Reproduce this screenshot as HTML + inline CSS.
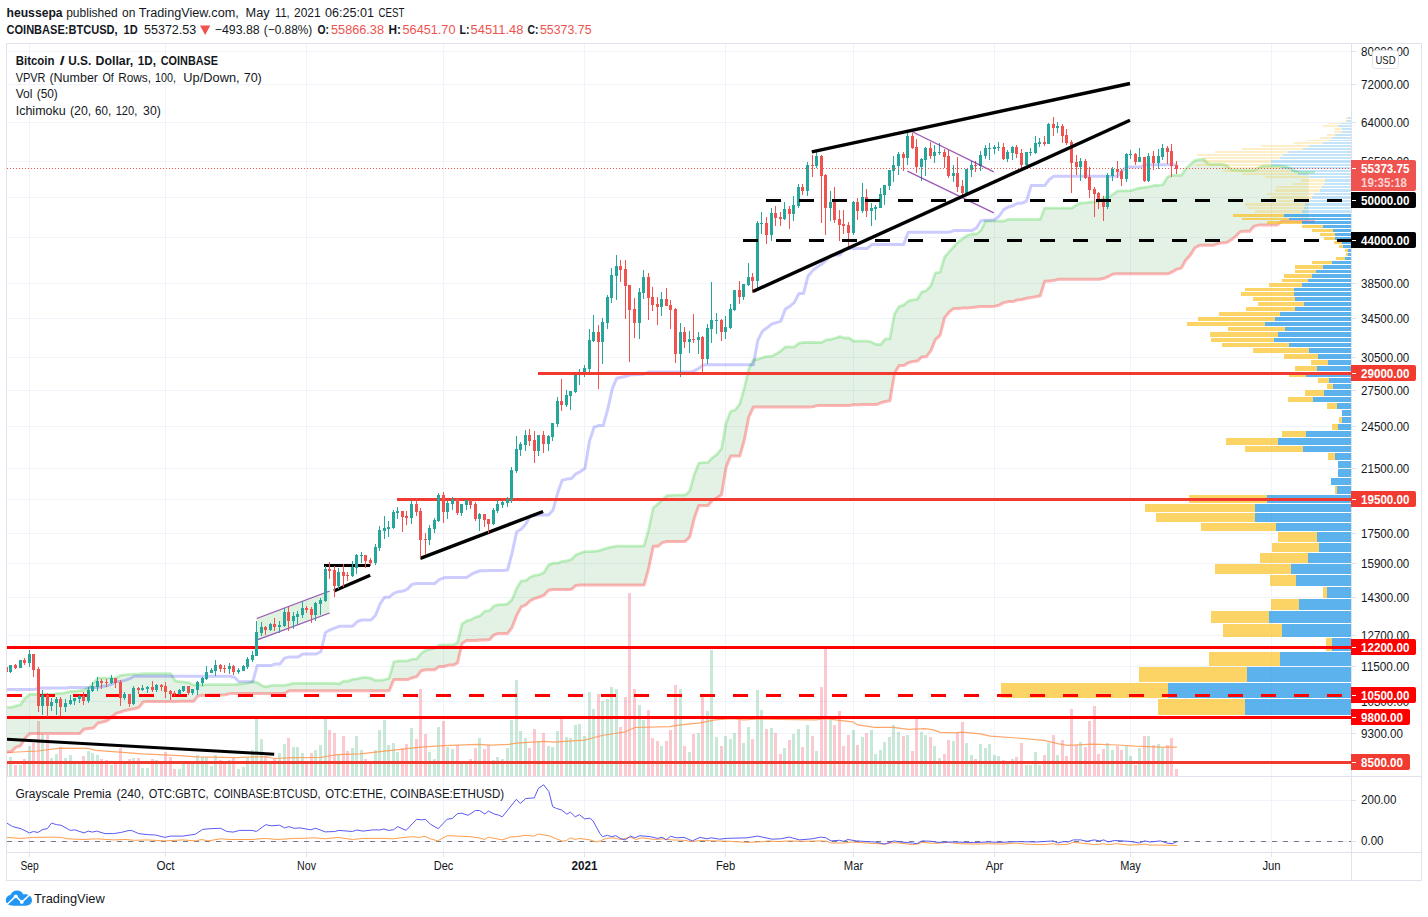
<!DOCTYPE html>
<html><head><meta charset="utf-8"><title>BTCUSD chart</title>
<style>html,body{margin:0;padding:0;background:#fff;width:1428px;height:917px;overflow:hidden;font-family:"Liberation Sans", sans-serif;}</style>
</head><body><svg width="1428" height="917" viewBox="0 0 1428 917" font-family='"Liberation Sans", sans-serif' style="display:block"><g shape-rendering="crispEdges">
<rect x="29" y="44" width="1" height="808" fill="#F0F3FA" />
<rect x="165" y="44" width="1" height="808" fill="#F0F3FA" />
<rect x="306" y="44" width="1" height="808" fill="#F0F3FA" />
<rect x="443" y="44" width="1" height="808" fill="#F0F3FA" />
<rect x="584" y="44" width="1" height="808" fill="#F0F3FA" />
<rect x="725" y="44" width="1" height="808" fill="#F0F3FA" />
<rect x="853" y="44" width="1" height="808" fill="#F0F3FA" />
<rect x="994" y="44" width="1" height="808" fill="#F0F3FA" />
<rect x="1130" y="44" width="1" height="808" fill="#F0F3FA" />
<rect x="1271" y="44" width="1" height="808" fill="#F0F3FA" />
<rect x="7" y="51" width="1344" height="1" fill="#F0F3FA" />
<rect x="7" y="84" width="1344" height="1" fill="#F0F3FA" />
<rect x="7" y="122" width="1344" height="1" fill="#F0F3FA" />
<rect x="7" y="161" width="1344" height="1" fill="#F0F3FA" />
<rect x="7" y="197" width="1344" height="1" fill="#F0F3FA" />
<rect x="7" y="237" width="1344" height="1" fill="#F0F3FA" />
<rect x="7" y="283" width="1344" height="1" fill="#F0F3FA" />
<rect x="7" y="318" width="1344" height="1" fill="#F0F3FA" />
<rect x="7" y="357" width="1344" height="1" fill="#F0F3FA" />
<rect x="7" y="390" width="1344" height="1" fill="#F0F3FA" />
<rect x="7" y="426" width="1344" height="1" fill="#F0F3FA" />
<rect x="7" y="468" width="1344" height="1" fill="#F0F3FA" />
<rect x="7" y="499" width="1344" height="1" fill="#F0F3FA" />
<rect x="7" y="533" width="1344" height="1" fill="#F0F3FA" />
<rect x="7" y="563" width="1344" height="1" fill="#F0F3FA" />
<rect x="7" y="597" width="1344" height="1" fill="#F0F3FA" />
<rect x="7" y="635" width="1344" height="1" fill="#F0F3FA" />
<rect x="7" y="666" width="1344" height="1" fill="#F0F3FA" />
<rect x="7" y="701" width="1344" height="1" fill="#F0F3FA" />
<rect x="7" y="733" width="1344" height="1" fill="#F0F3FA" />
<rect x="7" y="800" width="1344" height="1" fill="#F0F3FA" />
<rect x="7" y="841" width="1344" height="1" fill="#F0F3FA" />
</g>
<defs><clipPath id="cm"><rect x="7" y="44" width="1344" height="732"/></clipPath><clipPath id="cl"><rect x="7" y="777" width="1344" height="75"/></clipPath></defs>
<g clip-path="url(#cm)">
<g shape-rendering="crispEdges">
<rect x="5" y="764" width="3" height="12" fill="rgba(238,78,98,0.3)" />
<rect x="9" y="757" width="3" height="19" fill="rgba(72,178,125,0.3)" />
<rect x="14" y="765" width="3" height="11" fill="rgba(238,78,98,0.3)" />
<rect x="19" y="765" width="3" height="11" fill="rgba(72,178,125,0.3)" />
<rect x="23" y="759" width="3" height="17" fill="rgba(238,78,98,0.3)" />
<rect x="28" y="746" width="3" height="30" fill="rgba(72,178,125,0.3)" />
<rect x="32" y="743" width="3" height="33" fill="rgba(238,78,98,0.3)" />
<rect x="37" y="721" width="3" height="55" fill="rgba(238,78,98,0.3)" />
<rect x="41" y="734" width="3" height="42" fill="rgba(72,178,125,0.3)" />
<rect x="46" y="735" width="3" height="41" fill="rgba(238,78,98,0.3)" />
<rect x="50" y="758" width="3" height="18" fill="rgba(72,178,125,0.3)" />
<rect x="55" y="754" width="3" height="22" fill="rgba(72,178,125,0.3)" />
<rect x="59" y="747" width="3" height="29" fill="rgba(238,78,98,0.3)" />
<rect x="64" y="758" width="3" height="18" fill="rgba(72,178,125,0.3)" />
<rect x="69" y="755" width="3" height="21" fill="rgba(72,178,125,0.3)" />
<rect x="73" y="764" width="3" height="12" fill="rgba(72,178,125,0.3)" />
<rect x="78" y="764" width="3" height="12" fill="rgba(72,178,125,0.3)" />
<rect x="82" y="756" width="3" height="20" fill="rgba(238,78,98,0.3)" />
<rect x="87" y="751" width="3" height="25" fill="rgba(72,178,125,0.3)" />
<rect x="91" y="753" width="3" height="23" fill="rgba(72,178,125,0.3)" />
<rect x="96" y="755" width="3" height="21" fill="rgba(72,178,125,0.3)" />
<rect x="100" y="759" width="3" height="17" fill="rgba(238,78,98,0.3)" />
<rect x="105" y="760" width="3" height="16" fill="rgba(238,78,98,0.3)" />
<rect x="110" y="765" width="3" height="11" fill="rgba(72,178,125,0.3)" />
<rect x="114" y="764" width="3" height="12" fill="rgba(238,78,98,0.3)" />
<rect x="119" y="748" width="3" height="28" fill="rgba(238,78,98,0.3)" />
<rect x="123" y="764" width="3" height="12" fill="rgba(72,178,125,0.3)" />
<rect x="128" y="759" width="3" height="17" fill="rgba(238,78,98,0.3)" />
<rect x="132" y="758" width="3" height="18" fill="rgba(72,178,125,0.3)" />
<rect x="137" y="758" width="3" height="18" fill="rgba(238,78,98,0.3)" />
<rect x="141" y="768" width="3" height="8" fill="rgba(72,178,125,0.3)" />
<rect x="146" y="768" width="3" height="8" fill="rgba(72,178,125,0.3)" />
<rect x="151" y="759" width="3" height="17" fill="rgba(238,78,98,0.3)" />
<rect x="155" y="760" width="3" height="16" fill="rgba(72,178,125,0.3)" />
<rect x="160" y="764" width="3" height="12" fill="rgba(238,78,98,0.3)" />
<rect x="164" y="752" width="3" height="24" fill="rgba(238,78,98,0.3)" />
<rect x="169" y="757" width="3" height="19" fill="rgba(238,78,98,0.3)" />
<rect x="173" y="769" width="3" height="7" fill="rgba(238,78,98,0.3)" />
<rect x="178" y="769" width="3" height="7" fill="rgba(72,178,125,0.3)" />
<rect x="182" y="764" width="3" height="12" fill="rgba(72,178,125,0.3)" />
<rect x="187" y="764" width="3" height="12" fill="rgba(238,78,98,0.3)" />
<rect x="191" y="764" width="3" height="12" fill="rgba(72,178,125,0.3)" />
<rect x="196" y="755" width="3" height="21" fill="rgba(72,178,125,0.3)" />
<rect x="201" y="757" width="3" height="19" fill="rgba(72,178,125,0.3)" />
<rect x="205" y="757" width="3" height="19" fill="rgba(72,178,125,0.3)" />
<rect x="210" y="766" width="3" height="10" fill="rgba(72,178,125,0.3)" />
<rect x="214" y="755" width="3" height="21" fill="rgba(72,178,125,0.3)" />
<rect x="219" y="760" width="3" height="16" fill="rgba(238,78,98,0.3)" />
<rect x="223" y="764" width="3" height="12" fill="rgba(238,78,98,0.3)" />
<rect x="228" y="760" width="3" height="16" fill="rgba(72,178,125,0.3)" />
<rect x="232" y="758" width="3" height="18" fill="rgba(238,78,98,0.3)" />
<rect x="237" y="769" width="3" height="7" fill="rgba(72,178,125,0.3)" />
<rect x="242" y="767" width="3" height="9" fill="rgba(72,178,125,0.3)" />
<rect x="246" y="758" width="3" height="18" fill="rgba(72,178,125,0.3)" />
<rect x="251" y="750" width="3" height="26" fill="rgba(72,178,125,0.3)" />
<rect x="255" y="719" width="3" height="57" fill="rgba(72,178,125,0.3)" />
<rect x="260" y="739" width="3" height="37" fill="rgba(72,178,125,0.3)" />
<rect x="264" y="756" width="3" height="20" fill="rgba(238,78,98,0.3)" />
<rect x="269" y="764" width="3" height="12" fill="rgba(72,178,125,0.3)" />
<rect x="273" y="759" width="3" height="17" fill="rgba(238,78,98,0.3)" />
<rect x="278" y="753" width="3" height="23" fill="rgba(72,178,125,0.3)" />
<rect x="283" y="744" width="3" height="32" fill="rgba(72,178,125,0.3)" />
<rect x="287" y="738" width="3" height="38" fill="rgba(238,78,98,0.3)" />
<rect x="292" y="747" width="3" height="29" fill="rgba(72,178,125,0.3)" />
<rect x="296" y="747" width="3" height="29" fill="rgba(72,178,125,0.3)" />
<rect x="301" y="753" width="3" height="23" fill="rgba(72,178,125,0.3)" />
<rect x="305" y="764" width="3" height="12" fill="rgba(238,78,98,0.3)" />
<rect x="310" y="753" width="3" height="23" fill="rgba(238,78,98,0.3)" />
<rect x="314" y="750" width="3" height="26" fill="rgba(72,178,125,0.3)" />
<rect x="319" y="745" width="3" height="31" fill="rgba(72,178,125,0.3)" />
<rect x="324" y="719" width="3" height="57" fill="rgba(72,178,125,0.3)" />
<rect x="328" y="730" width="3" height="46" fill="rgba(238,78,98,0.3)" />
<rect x="333" y="733" width="3" height="43" fill="rgba(238,78,98,0.3)" />
<rect x="337" y="754" width="3" height="22" fill="rgba(72,178,125,0.3)" />
<rect x="342" y="736" width="3" height="40" fill="rgba(238,78,98,0.3)" />
<rect x="346" y="751" width="3" height="25" fill="rgba(238,78,98,0.3)" />
<rect x="351" y="748" width="3" height="28" fill="rgba(72,178,125,0.3)" />
<rect x="355" y="736" width="3" height="40" fill="rgba(72,178,125,0.3)" />
<rect x="360" y="750" width="3" height="26" fill="rgba(72,178,125,0.3)" />
<rect x="364" y="759" width="3" height="17" fill="rgba(238,78,98,0.3)" />
<rect x="369" y="764" width="3" height="12" fill="rgba(238,78,98,0.3)" />
<rect x="374" y="750" width="3" height="26" fill="rgba(72,178,125,0.3)" />
<rect x="378" y="730" width="3" height="46" fill="rgba(72,178,125,0.3)" />
<rect x="383" y="720" width="3" height="56" fill="rgba(72,178,125,0.3)" />
<rect x="387" y="745" width="3" height="31" fill="rgba(72,178,125,0.3)" />
<rect x="392" y="743" width="3" height="33" fill="rgba(72,178,125,0.3)" />
<rect x="396" y="752" width="3" height="24" fill="rgba(72,178,125,0.3)" />
<rect x="401" y="748" width="3" height="28" fill="rgba(238,78,98,0.3)" />
<rect x="405" y="744" width="3" height="32" fill="rgba(238,78,98,0.3)" />
<rect x="410" y="728" width="3" height="48" fill="rgba(72,178,125,0.3)" />
<rect x="415" y="739" width="3" height="37" fill="rgba(238,78,98,0.3)" />
<rect x="419" y="689" width="3" height="87" fill="rgba(238,78,98,0.3)" />
<rect x="424" y="734" width="3" height="42" fill="rgba(238,78,98,0.3)" />
<rect x="428" y="752" width="3" height="24" fill="rgba(72,178,125,0.3)" />
<rect x="433" y="759" width="3" height="17" fill="rgba(72,178,125,0.3)" />
<rect x="437" y="727" width="3" height="49" fill="rgba(72,178,125,0.3)" />
<rect x="442" y="721" width="3" height="55" fill="rgba(238,78,98,0.3)" />
<rect x="446" y="747" width="3" height="29" fill="rgba(72,178,125,0.3)" />
<rect x="451" y="749" width="3" height="27" fill="rgba(72,178,125,0.3)" />
<rect x="456" y="745" width="3" height="31" fill="rgba(238,78,98,0.3)" />
<rect x="460" y="764" width="3" height="12" fill="rgba(72,178,125,0.3)" />
<rect x="465" y="764" width="3" height="12" fill="rgba(72,178,125,0.3)" />
<rect x="469" y="759" width="3" height="17" fill="rgba(238,78,98,0.3)" />
<rect x="474" y="748" width="3" height="28" fill="rgba(238,78,98,0.3)" />
<rect x="478" y="738" width="3" height="38" fill="rgba(72,178,125,0.3)" />
<rect x="483" y="749" width="3" height="27" fill="rgba(238,78,98,0.3)" />
<rect x="487" y="745" width="3" height="31" fill="rgba(238,78,98,0.3)" />
<rect x="492" y="760" width="3" height="16" fill="rgba(72,178,125,0.3)" />
<rect x="496" y="757" width="3" height="19" fill="rgba(72,178,125,0.3)" />
<rect x="501" y="759" width="3" height="17" fill="rgba(72,178,125,0.3)" />
<rect x="506" y="748" width="3" height="28" fill="rgba(72,178,125,0.3)" />
<rect x="510" y="720" width="3" height="56" fill="rgba(72,178,125,0.3)" />
<rect x="515" y="680" width="3" height="96" fill="rgba(72,178,125,0.3)" />
<rect x="519" y="731" width="3" height="45" fill="rgba(72,178,125,0.3)" />
<rect x="524" y="738" width="3" height="38" fill="rgba(72,178,125,0.3)" />
<rect x="528" y="748" width="3" height="28" fill="rgba(238,78,98,0.3)" />
<rect x="533" y="729" width="3" height="47" fill="rgba(238,78,98,0.3)" />
<rect x="537" y="741" width="3" height="35" fill="rgba(72,178,125,0.3)" />
<rect x="542" y="733" width="3" height="43" fill="rgba(238,78,98,0.3)" />
<rect x="547" y="746" width="3" height="30" fill="rgba(72,178,125,0.3)" />
<rect x="551" y="747" width="3" height="29" fill="rgba(72,178,125,0.3)" />
<rect x="556" y="731" width="3" height="45" fill="rgba(72,178,125,0.3)" />
<rect x="560" y="716" width="3" height="60" fill="rgba(238,78,98,0.3)" />
<rect x="565" y="737" width="3" height="39" fill="rgba(72,178,125,0.3)" />
<rect x="569" y="738" width="3" height="38" fill="rgba(72,178,125,0.3)" />
<rect x="574" y="725" width="3" height="51" fill="rgba(72,178,125,0.3)" />
<rect x="578" y="724" width="3" height="52" fill="rgba(72,178,125,0.3)" />
<rect x="583" y="736" width="3" height="40" fill="rgba(72,178,125,0.3)" />
<rect x="588" y="692" width="3" height="84" fill="rgba(72,178,125,0.3)" />
<rect x="592" y="709" width="3" height="67" fill="rgba(72,178,125,0.3)" />
<rect x="597" y="694" width="3" height="82" fill="rgba(238,78,98,0.3)" />
<rect x="601" y="701" width="3" height="75" fill="rgba(72,178,125,0.3)" />
<rect x="606" y="699" width="3" height="77" fill="rgba(72,178,125,0.3)" />
<rect x="610" y="687" width="3" height="89" fill="rgba(72,178,125,0.3)" />
<rect x="615" y="689" width="3" height="87" fill="rgba(72,178,125,0.3)" />
<rect x="619" y="727" width="3" height="49" fill="rgba(238,78,98,0.3)" />
<rect x="624" y="697" width="3" height="79" fill="rgba(238,78,98,0.3)" />
<rect x="628" y="593" width="3" height="183" fill="rgba(238,78,98,0.3)" />
<rect x="633" y="689" width="3" height="87" fill="rgba(238,78,98,0.3)" />
<rect x="638" y="705" width="3" height="71" fill="rgba(72,178,125,0.3)" />
<rect x="642" y="720" width="3" height="56" fill="rgba(72,178,125,0.3)" />
<rect x="647" y="710" width="3" height="66" fill="rgba(238,78,98,0.3)" />
<rect x="651" y="738" width="3" height="38" fill="rgba(238,78,98,0.3)" />
<rect x="656" y="741" width="3" height="35" fill="rgba(238,78,98,0.3)" />
<rect x="660" y="746" width="3" height="30" fill="rgba(72,178,125,0.3)" />
<rect x="665" y="741" width="3" height="35" fill="rgba(238,78,98,0.3)" />
<rect x="669" y="730" width="3" height="46" fill="rgba(238,78,98,0.3)" />
<rect x="674" y="685" width="3" height="91" fill="rgba(238,78,98,0.3)" />
<rect x="679" y="689" width="3" height="87" fill="rgba(72,178,125,0.3)" />
<rect x="683" y="746" width="3" height="30" fill="rgba(238,78,98,0.3)" />
<rect x="688" y="752" width="3" height="24" fill="rgba(72,178,125,0.3)" />
<rect x="692" y="734" width="3" height="42" fill="rgba(238,78,98,0.3)" />
<rect x="697" y="733" width="3" height="43" fill="rgba(72,178,125,0.3)" />
<rect x="701" y="697" width="3" height="79" fill="rgba(238,78,98,0.3)" />
<rect x="706" y="711" width="3" height="65" fill="rgba(72,178,125,0.3)" />
<rect x="710" y="650" width="3" height="126" fill="rgba(72,178,125,0.3)" />
<rect x="715" y="737" width="3" height="39" fill="rgba(72,178,125,0.3)" />
<rect x="720" y="746" width="3" height="30" fill="rgba(238,78,98,0.3)" />
<rect x="724" y="736" width="3" height="40" fill="rgba(72,178,125,0.3)" />
<rect x="729" y="739" width="3" height="37" fill="rgba(72,178,125,0.3)" />
<rect x="733" y="733" width="3" height="43" fill="rgba(72,178,125,0.3)" />
<rect x="738" y="720" width="3" height="56" fill="rgba(238,78,98,0.3)" />
<rect x="742" y="743" width="3" height="33" fill="rgba(72,178,125,0.3)" />
<rect x="747" y="727" width="3" height="49" fill="rgba(72,178,125,0.3)" />
<rect x="751" y="739" width="3" height="37" fill="rgba(238,78,98,0.3)" />
<rect x="756" y="690" width="3" height="86" fill="rgba(72,178,125,0.3)" />
<rect x="760" y="710" width="3" height="66" fill="rgba(72,178,125,0.3)" />
<rect x="765" y="729" width="3" height="47" fill="rgba(238,78,98,0.3)" />
<rect x="770" y="728" width="3" height="48" fill="rgba(72,178,125,0.3)" />
<rect x="774" y="733" width="3" height="43" fill="rgba(238,78,98,0.3)" />
<rect x="779" y="754" width="3" height="22" fill="rgba(238,78,98,0.3)" />
<rect x="783" y="748" width="3" height="28" fill="rgba(72,178,125,0.3)" />
<rect x="788" y="740" width="3" height="36" fill="rgba(238,78,98,0.3)" />
<rect x="792" y="734" width="3" height="42" fill="rgba(72,178,125,0.3)" />
<rect x="797" y="729" width="3" height="47" fill="rgba(72,178,125,0.3)" />
<rect x="801" y="747" width="3" height="29" fill="rgba(238,78,98,0.3)" />
<rect x="806" y="725" width="3" height="51" fill="rgba(72,178,125,0.3)" />
<rect x="811" y="736" width="3" height="40" fill="rgba(238,78,98,0.3)" />
<rect x="815" y="751" width="3" height="25" fill="rgba(72,178,125,0.3)" />
<rect x="820" y="687" width="3" height="89" fill="rgba(238,78,98,0.3)" />
<rect x="824" y="649" width="3" height="127" fill="rgba(238,78,98,0.3)" />
<rect x="829" y="720" width="3" height="56" fill="rgba(72,178,125,0.3)" />
<rect x="833" y="725" width="3" height="51" fill="rgba(238,78,98,0.3)" />
<rect x="838" y="711" width="3" height="65" fill="rgba(238,78,98,0.3)" />
<rect x="842" y="746" width="3" height="30" fill="rgba(238,78,98,0.3)" />
<rect x="847" y="735" width="3" height="41" fill="rgba(238,78,98,0.3)" />
<rect x="852" y="730" width="3" height="46" fill="rgba(72,178,125,0.3)" />
<rect x="856" y="745" width="3" height="31" fill="rgba(238,78,98,0.3)" />
<rect x="861" y="737" width="3" height="39" fill="rgba(72,178,125,0.3)" />
<rect x="865" y="733" width="3" height="43" fill="rgba(238,78,98,0.3)" />
<rect x="870" y="730" width="3" height="46" fill="rgba(72,178,125,0.3)" />
<rect x="874" y="754" width="3" height="22" fill="rgba(72,178,125,0.3)" />
<rect x="879" y="750" width="3" height="26" fill="rgba(72,178,125,0.3)" />
<rect x="883" y="742" width="3" height="34" fill="rgba(72,178,125,0.3)" />
<rect x="888" y="737" width="3" height="39" fill="rgba(72,178,125,0.3)" />
<rect x="892" y="725" width="3" height="51" fill="rgba(72,178,125,0.3)" />
<rect x="897" y="732" width="3" height="44" fill="rgba(72,178,125,0.3)" />
<rect x="902" y="736" width="3" height="40" fill="rgba(238,78,98,0.3)" />
<rect x="906" y="735" width="3" height="41" fill="rgba(72,178,125,0.3)" />
<rect x="911" y="751" width="3" height="25" fill="rgba(238,78,98,0.3)" />
<rect x="915" y="719" width="3" height="57" fill="rgba(238,78,98,0.3)" />
<rect x="920" y="732" width="3" height="44" fill="rgba(72,178,125,0.3)" />
<rect x="924" y="735" width="3" height="41" fill="rgba(72,178,125,0.3)" />
<rect x="929" y="737" width="3" height="39" fill="rgba(238,78,98,0.3)" />
<rect x="933" y="746" width="3" height="30" fill="rgba(72,178,125,0.3)" />
<rect x="938" y="758" width="3" height="18" fill="rgba(72,178,125,0.3)" />
<rect x="943" y="754" width="3" height="22" fill="rgba(238,78,98,0.3)" />
<rect x="947" y="740" width="3" height="36" fill="rgba(238,78,98,0.3)" />
<rect x="952" y="741" width="3" height="35" fill="rgba(72,178,125,0.3)" />
<rect x="956" y="733" width="3" height="43" fill="rgba(238,78,98,0.3)" />
<rect x="961" y="722" width="3" height="54" fill="rgba(238,78,98,0.3)" />
<rect x="965" y="743" width="3" height="33" fill="rgba(72,178,125,0.3)" />
<rect x="970" y="755" width="3" height="21" fill="rgba(72,178,125,0.3)" />
<rect x="974" y="759" width="3" height="17" fill="rgba(238,78,98,0.3)" />
<rect x="979" y="744" width="3" height="32" fill="rgba(72,178,125,0.3)" />
<rect x="984" y="748" width="3" height="28" fill="rgba(72,178,125,0.3)" />
<rect x="988" y="744" width="3" height="32" fill="rgba(72,178,125,0.3)" />
<rect x="993" y="755" width="3" height="21" fill="rgba(72,178,125,0.3)" />
<rect x="997" y="756" width="3" height="20" fill="rgba(72,178,125,0.3)" />
<rect x="1002" y="760" width="3" height="16" fill="rgba(238,78,98,0.3)" />
<rect x="1006" y="764" width="3" height="12" fill="rgba(72,178,125,0.3)" />
<rect x="1011" y="759" width="3" height="17" fill="rgba(72,178,125,0.3)" />
<rect x="1015" y="757" width="3" height="19" fill="rgba(238,78,98,0.3)" />
<rect x="1020" y="743" width="3" height="33" fill="rgba(238,78,98,0.3)" />
<rect x="1025" y="765" width="3" height="11" fill="rgba(72,178,125,0.3)" />
<rect x="1029" y="765" width="3" height="11" fill="rgba(72,178,125,0.3)" />
<rect x="1034" y="752" width="3" height="24" fill="rgba(72,178,125,0.3)" />
<rect x="1038" y="765" width="3" height="11" fill="rgba(72,178,125,0.3)" />
<rect x="1043" y="755" width="3" height="21" fill="rgba(238,78,98,0.3)" />
<rect x="1047" y="743" width="3" height="33" fill="rgba(72,178,125,0.3)" />
<rect x="1052" y="735" width="3" height="41" fill="rgba(238,78,98,0.3)" />
<rect x="1056" y="755" width="3" height="21" fill="rgba(72,178,125,0.3)" />
<rect x="1061" y="740" width="3" height="36" fill="rgba(238,78,98,0.3)" />
<rect x="1065" y="756" width="3" height="20" fill="rgba(238,78,98,0.3)" />
<rect x="1070" y="709" width="3" height="67" fill="rgba(238,78,98,0.3)" />
<rect x="1075" y="745" width="3" height="31" fill="rgba(238,78,98,0.3)" />
<rect x="1079" y="742" width="3" height="34" fill="rgba(72,178,125,0.3)" />
<rect x="1084" y="747" width="3" height="29" fill="rgba(238,78,98,0.3)" />
<rect x="1088" y="721" width="3" height="55" fill="rgba(238,78,98,0.3)" />
<rect x="1093" y="706" width="3" height="70" fill="rgba(238,78,98,0.3)" />
<rect x="1097" y="754" width="3" height="22" fill="rgba(238,78,98,0.3)" />
<rect x="1102" y="749" width="3" height="27" fill="rgba(238,78,98,0.3)" />
<rect x="1106" y="743" width="3" height="33" fill="rgba(72,178,125,0.3)" />
<rect x="1111" y="750" width="3" height="26" fill="rgba(72,178,125,0.3)" />
<rect x="1116" y="746" width="3" height="30" fill="rgba(238,78,98,0.3)" />
<rect x="1120" y="750" width="3" height="26" fill="rgba(238,78,98,0.3)" />
<rect x="1125" y="746" width="3" height="30" fill="rgba(72,178,125,0.3)" />
<rect x="1129" y="756" width="3" height="20" fill="rgba(72,178,125,0.3)" />
<rect x="1134" y="765" width="3" height="11" fill="rgba(238,78,98,0.3)" />
<rect x="1138" y="748" width="3" height="28" fill="rgba(72,178,125,0.3)" />
<rect x="1143" y="736" width="3" height="40" fill="rgba(238,78,98,0.3)" />
<rect x="1147" y="736" width="3" height="40" fill="rgba(72,178,125,0.3)" />
<rect x="1152" y="745" width="3" height="31" fill="rgba(238,78,98,0.3)" />
<rect x="1157" y="744" width="3" height="32" fill="rgba(72,178,125,0.3)" />
<rect x="1161" y="748" width="3" height="28" fill="rgba(72,178,125,0.3)" />
<rect x="1166" y="745" width="3" height="31" fill="rgba(238,78,98,0.3)" />
<rect x="1170" y="738" width="3" height="38" fill="rgba(238,78,98,0.3)" />
<rect x="1175" y="769" width="3" height="7" fill="rgba(238,78,98,0.3)" />
</g>
<polyline fill="none" stroke="#FF9850" stroke-opacity="0.85" stroke-width="1.2" points="6.9,752.5 37.8,751 60.5,748.2 88.2,748.4 95.8,750.3 119.7,752.2 142.4,753.9 180,755.6 196.4,756.9 236.7,757.6 255.6,756.9 265.7,756.9 274.5,758.5 293.4,757.6 321.2,757.3 328.7,756 337.6,754.7 360,753.8 420.5,747.1 443.2,745.6 478.5,744.4 491,745.1 508.7,744.4 516.3,743.1 544,741.3 554.1,742.1 584.3,740.1 602,735.5 624.7,732 634.8,727.5 670,726.7 680.1,724.9 700.3,722.9 715,719.8 731.8,718.7 743.6,719.8 760,719 815.8,719.8 825.9,718.7 839.4,720.3 852.8,721.8 857.9,724.9 874.7,727.4 893.2,727.4 908.3,729.4 925.1,728.7 933.5,729.9 940.2,732.4 955,732.9 961.8,732.1 980.3,733.8 990.3,736.1 1017.2,738 1044.1,740.3 1057.6,743.7 1067.6,745.4 1092.9,744.2 1118.1,745 1134.9,746.2 1160.1,747.1 1176.9,747.1"/>
<polygon fill="rgba(67,160,71,0.14)" points="2.3,707.4 6.9,707.4 11.4,707.4 16.0,705.8 20.5,704.9 25.1,698.1 29.6,694.3 34.2,694.3 38.7,694.3 43.3,694.3 47.8,694.3 52.4,694.3 56.9,693.6 61.5,693.5 66.0,692.6 70.6,691.3 75.1,691.1 79.7,690.7 84.2,689.8 88.8,687.9 93.3,683.2 97.9,678.1 102.5,678.1 107.0,678.1 111.6,678.1 116.1,678.1 120.7,675.3 125.2,674.9 129.8,674.4 134.3,674.2 138.9,674.2 143.4,673.7 148.0,673.7 152.5,673.7 157.1,673.7 161.6,673.7 166.2,673.7 170.7,673.7 175.3,680.9 179.8,681.7 184.4,682.1 188.9,682.7 193.5,685.0 198.0,685.0 202.6,685.0 207.1,684.7 211.7,684.7 216.3,684.7 220.8,684.7 225.4,684.7 229.9,684.7 234.5,684.7 239.0,684.0 243.6,683.9 248.1,683.0 252.7,681.7 257.2,682.5 261.8,685.6 266.3,686.8 270.9,685.6 275.4,685.4 280.0,685.4 284.5,685.4 289.1,684.4 293.6,683.3 298.2,683.3 302.7,683.3 307.3,683.3 311.8,683.3 316.4,683.3 320.9,683.3 325.5,683.3 330.1,683.3 334.6,683.3 339.2,683.8 343.7,681.1 348.3,681.1 352.8,679.3 357.4,678.9 361.9,677.6 366.5,677.6 371.0,678.2 375.6,680.4 380.1,680.4 384.7,679.7 389.2,678.1 393.8,661.9 398.3,661.0 402.9,660.9 407.4,660.9 412.0,659.2 416.5,659.1 421.1,653.4 425.6,650.5 430.2,649.1 434.7,648.2 439.3,645.1 443.9,645.0 448.4,645.0 453.0,645.0 457.5,642.8 462.1,623.9 466.6,620.8 471.2,619.6 475.7,617.1 480.3,615.8 484.8,611.1 489.4,610.7 493.9,606.0 498.5,604.6 503.0,604.6 507.6,604.0 512.1,599.5 516.7,588.2 521.2,581.0 525.8,580.6 530.3,577.0 534.9,575.4 539.4,574.7 544.0,572.5 548.5,565.1 553.1,563.1 557.7,563.1 562.2,561.3 566.8,560.8 571.3,559.4 575.9,554.9 580.4,553.1 585.0,551.7 589.5,551.7 594.1,551.3 598.6,550.9 603.2,549.3 607.7,547.9 612.3,546.8 616.8,546.2 621.4,546.2 625.9,546.1 630.5,546.1 635.0,546.1 639.6,546.1 644.1,545.8 648.7,529.3 653.2,507.9 657.8,504.2 662.3,499.8 666.9,495.6 671.5,495.4 676.0,495.2 680.6,495.2 685.1,495.2 689.7,490.9 694.2,474.7 698.8,463.2 703.3,462.6 707.9,462.4 712.4,457.8 717.0,454.1 721.5,448.8 726.1,423.0 730.6,411.5 735.2,410.0 739.7,404.2 744.3,388.2 748.8,369.0 753.4,359.8 757.9,359.3 762.5,357.7 767.0,356.4 771.6,356.2 776.1,354.0 780.7,351.1 785.3,347.0 789.8,346.9 794.4,346.9 798.9,343.2 803.5,342.5 808.0,342.5 812.6,342.5 817.1,342.5 821.7,342.5 826.2,339.9 830.8,339.3 835.3,338.2 839.9,336.6 844.4,338.0 849.0,338.0 853.5,341.2 858.1,341.2 862.6,341.2 867.2,341.2 871.7,342.2 876.3,344.5 880.8,344.5 885.4,338.9 889.9,338.9 894.5,313.9 899.1,306.6 903.6,305.1 908.2,301.2 912.7,299.9 917.3,299.3 921.8,292.1 926.4,290.7 930.9,285.5 935.5,272.8 940.0,272.4 944.6,257.0 949.1,251.9 953.7,246.7 958.2,241.9 962.8,238.5 967.3,235.5 971.9,234.0 976.4,234.0 981.0,230.3 985.5,221.2 990.1,221.2 994.6,221.2 999.2,221.2 1003.7,221.2 1008.3,219.4 1012.9,219.4 1017.4,219.4 1022.0,219.4 1026.5,219.4 1031.1,219.4 1035.6,219.4 1040.2,219.4 1044.7,208.1 1049.3,208.1 1053.8,208.1 1058.4,208.1 1062.9,208.1 1067.5,208.1 1072.0,208.1 1076.6,204.9 1081.1,202.9 1085.7,202.9 1090.2,202.1 1094.8,202.1 1099.3,200.8 1103.9,197.9 1108.4,197.2 1113.0,194.4 1117.5,191.1 1122.1,190.8 1126.7,190.8 1131.2,190.6 1135.8,189.0 1140.3,187.8 1144.9,187.3 1149.4,186.7 1154.0,185.5 1158.5,185.5 1163.1,184.5 1167.6,177.1 1172.2,175.4 1176.7,175.4 1181.3,175.4 1185.8,168.7 1190.4,164.4 1194.9,160.6 1199.5,159.6 1204.0,159.3 1208.6,164.3 1213.1,164.3 1217.7,164.3 1222.2,164.3 1226.8,165.5 1231.3,169.8 1235.9,169.8 1240.5,170.5 1245.0,170.5 1249.6,170.5 1254.1,170.5 1258.7,167.7 1263.2,165.9 1267.8,165.9 1272.3,165.9 1276.9,165.9 1281.4,166.2 1286.0,166.6 1290.5,168.2 1295.1,171.2 1299.6,172.4 1304.2,172.4 1308.7,172.4 1308.7,221.6 1304.2,221.6 1299.6,221.6 1295.1,221.6 1290.5,221.6 1286.0,221.6 1281.4,221.6 1276.9,225.1 1272.3,225.1 1267.8,225.1 1263.2,225.1 1258.7,225.1 1254.1,226.1 1249.6,231.3 1245.0,231.3 1240.5,231.5 1235.9,235.9 1231.3,239.8 1226.8,242.4 1222.2,242.8 1217.7,243.6 1213.1,245.3 1208.6,245.3 1204.0,245.3 1199.5,245.3 1194.9,247.8 1190.4,254.9 1185.8,260.1 1181.3,268.1 1176.7,269.2 1172.2,272.0 1167.6,273.8 1163.1,273.8 1158.5,273.8 1154.0,273.8 1149.4,273.8 1144.9,273.8 1140.3,273.8 1135.8,273.8 1131.2,273.8 1126.7,273.8 1122.1,273.8 1117.5,273.8 1113.0,274.0 1108.4,276.5 1103.9,278.3 1099.3,279.3 1094.8,279.3 1090.2,279.3 1085.7,279.3 1081.1,279.3 1076.6,279.3 1072.0,279.3 1067.5,279.3 1062.9,279.3 1058.4,279.3 1053.8,280.6 1049.3,280.9 1044.7,281.3 1040.2,295.7 1035.6,296.8 1031.1,297.5 1026.5,298.3 1022.0,299.5 1017.4,299.9 1012.9,301.6 1008.3,301.6 1003.7,302.6 999.2,305.1 994.6,306.2 990.1,306.6 985.5,306.6 981.0,306.6 976.4,306.9 971.9,307.5 967.3,307.9 962.8,307.9 958.2,308.4 953.7,308.4 949.1,312.0 944.6,317.6 940.0,335.4 935.5,339.3 930.9,350.6 926.4,356.6 921.8,356.9 917.3,361.1 912.7,361.4 908.2,362.9 903.6,365.6 899.1,365.6 894.5,373.3 889.9,400.7 885.4,401.5 880.8,402.8 876.3,404.6 871.7,404.6 867.2,404.6 862.6,404.6 858.1,404.7 853.5,404.8 849.0,405.6 844.4,405.6 839.9,405.6 835.3,405.6 830.8,405.6 826.2,405.6 821.7,405.6 817.1,405.6 812.6,406.7 808.0,407.0 803.5,407.0 798.9,407.0 794.4,407.0 789.8,407.0 785.3,407.0 780.7,407.0 776.1,407.0 771.6,407.0 767.0,407.0 762.5,407.0 757.9,407.0 753.4,407.0 748.8,416.8 744.3,440.0 739.7,456.0 735.2,456.0 730.6,456.0 726.1,467.1 721.5,494.8 717.0,497.8 712.4,500.3 707.9,505.4 703.3,505.4 698.8,505.4 694.2,518.3 689.7,536.9 685.1,541.4 680.6,541.4 676.0,541.4 671.5,541.4 666.9,541.4 662.3,542.6 657.8,546.3 653.2,546.3 648.7,567.9 644.1,585.0 639.6,585.0 635.0,585.0 630.5,585.0 625.9,585.0 621.4,585.0 616.8,585.0 612.3,585.0 607.7,585.0 603.2,585.0 598.6,585.0 594.1,585.0 589.5,585.0 585.0,585.0 580.4,585.0 575.9,585.4 571.3,589.4 566.8,589.4 562.2,589.4 557.7,589.4 553.1,589.4 548.5,590.3 544.0,595.1 539.4,597.0 534.9,598.4 530.3,600.7 525.8,604.9 521.2,606.9 516.7,615.3 512.1,627.3 507.6,633.4 503.0,633.4 498.5,633.4 493.9,634.9 489.4,639.6 484.8,639.9 480.3,639.9 475.7,640.4 471.2,640.4 466.6,640.4 462.1,643.2 457.5,662.9 453.0,665.1 448.4,665.1 443.9,666.5 439.3,666.5 434.7,669.8 430.2,669.8 425.6,669.8 421.1,670.8 416.5,676.8 412.0,677.8 407.4,679.6 402.9,679.6 398.3,679.6 393.8,679.6 389.2,690.7 384.7,690.7 380.1,690.7 375.6,690.7 371.0,690.7 366.5,690.7 361.9,690.7 357.4,690.7 352.8,690.7 348.3,690.7 343.7,690.7 339.2,690.7 334.6,690.7 330.1,690.7 325.5,690.7 320.9,690.7 316.4,690.7 311.8,690.7 307.3,690.7 302.7,690.7 298.2,690.7 293.6,690.7 289.1,690.7 284.5,693.6 280.0,693.6 275.4,693.6 270.9,693.6 266.3,693.6 261.8,693.6 257.2,693.6 252.7,693.6 248.1,693.6 243.6,693.6 239.0,693.6 234.5,693.6 229.9,693.6 225.4,694.8 220.8,694.9 216.3,695.0 211.7,695.1 207.1,695.2 202.6,695.3 198.0,696.0 193.5,701.2 188.9,701.2 184.4,701.3 179.8,701.3 175.3,701.4 170.7,701.4 166.2,701.5 161.6,701.5 157.1,701.6 152.5,701.6 148.0,701.6 143.4,701.7 138.9,707.4 134.3,708.7 129.8,709.5 125.2,710.4 120.7,712.0 116.1,713.4 111.6,717.0 107.0,720.8 102.5,722.0 97.9,723.0 93.3,728.1 88.8,728.5 84.2,728.9 79.7,733.4 75.1,733.6 70.6,733.6 66.0,733.6 61.5,733.6 56.9,733.6 52.4,733.6 47.8,733.6 43.3,733.6 38.7,733.6 34.2,733.6 29.6,733.6 25.1,738.2 20.5,745.7 16.0,747.1 11.4,751.6 6.9,752.1 2.3,752.5"/>
<polyline fill="none" stroke="rgb(0,200,0)" stroke-opacity="0.23" stroke-width="2.8" stroke-linejoin="round" points="2.3,707.4 6.9,707.4 11.4,707.4 16.0,705.8 20.5,704.9 25.1,698.1 29.6,694.3 34.2,694.3 38.7,694.3 43.3,694.3 47.8,694.3 52.4,694.3 56.9,693.6 61.5,693.5 66.0,692.6 70.6,691.3 75.1,691.1 79.7,690.7 84.2,689.8 88.8,687.9 93.3,683.2 97.9,678.1 102.5,678.1 107.0,678.1 111.6,678.1 116.1,678.1 120.7,675.3 125.2,674.9 129.8,674.4 134.3,674.2 138.9,674.2 143.4,673.7 148.0,673.7 152.5,673.7 157.1,673.7 161.6,673.7 166.2,673.7 170.7,673.7 175.3,680.9 179.8,681.7 184.4,682.1 188.9,682.7 193.5,685.0 198.0,685.0 202.6,685.0 207.1,684.7 211.7,684.7 216.3,684.7 220.8,684.7 225.4,684.7 229.9,684.7 234.5,684.7 239.0,684.0 243.6,683.9 248.1,683.0 252.7,681.7 257.2,682.5 261.8,685.6 266.3,686.8 270.9,685.6 275.4,685.4 280.0,685.4 284.5,685.4 289.1,684.4 293.6,683.3 298.2,683.3 302.7,683.3 307.3,683.3 311.8,683.3 316.4,683.3 320.9,683.3 325.5,683.3 330.1,683.3 334.6,683.3 339.2,683.8 343.7,681.1 348.3,681.1 352.8,679.3 357.4,678.9 361.9,677.6 366.5,677.6 371.0,678.2 375.6,680.4 380.1,680.4 384.7,679.7 389.2,678.1 393.8,661.9 398.3,661.0 402.9,660.9 407.4,660.9 412.0,659.2 416.5,659.1 421.1,653.4 425.6,650.5 430.2,649.1 434.7,648.2 439.3,645.1 443.9,645.0 448.4,645.0 453.0,645.0 457.5,642.8 462.1,623.9 466.6,620.8 471.2,619.6 475.7,617.1 480.3,615.8 484.8,611.1 489.4,610.7 493.9,606.0 498.5,604.6 503.0,604.6 507.6,604.0 512.1,599.5 516.7,588.2 521.2,581.0 525.8,580.6 530.3,577.0 534.9,575.4 539.4,574.7 544.0,572.5 548.5,565.1 553.1,563.1 557.7,563.1 562.2,561.3 566.8,560.8 571.3,559.4 575.9,554.9 580.4,553.1 585.0,551.7 589.5,551.7 594.1,551.3 598.6,550.9 603.2,549.3 607.7,547.9 612.3,546.8 616.8,546.2 621.4,546.2 625.9,546.1 630.5,546.1 635.0,546.1 639.6,546.1 644.1,545.8 648.7,529.3 653.2,507.9 657.8,504.2 662.3,499.8 666.9,495.6 671.5,495.4 676.0,495.2 680.6,495.2 685.1,495.2 689.7,490.9 694.2,474.7 698.8,463.2 703.3,462.6 707.9,462.4 712.4,457.8 717.0,454.1 721.5,448.8 726.1,423.0 730.6,411.5 735.2,410.0 739.7,404.2 744.3,388.2 748.8,369.0 753.4,359.8 757.9,359.3 762.5,357.7 767.0,356.4 771.6,356.2 776.1,354.0 780.7,351.1 785.3,347.0 789.8,346.9 794.4,346.9 798.9,343.2 803.5,342.5 808.0,342.5 812.6,342.5 817.1,342.5 821.7,342.5 826.2,339.9 830.8,339.3 835.3,338.2 839.9,336.6 844.4,338.0 849.0,338.0 853.5,341.2 858.1,341.2 862.6,341.2 867.2,341.2 871.7,342.2 876.3,344.5 880.8,344.5 885.4,338.9 889.9,338.9 894.5,313.9 899.1,306.6 903.6,305.1 908.2,301.2 912.7,299.9 917.3,299.3 921.8,292.1 926.4,290.7 930.9,285.5 935.5,272.8 940.0,272.4 944.6,257.0 949.1,251.9 953.7,246.7 958.2,241.9 962.8,238.5 967.3,235.5 971.9,234.0 976.4,234.0 981.0,230.3 985.5,221.2 990.1,221.2 994.6,221.2 999.2,221.2 1003.7,221.2 1008.3,219.4 1012.9,219.4 1017.4,219.4 1022.0,219.4 1026.5,219.4 1031.1,219.4 1035.6,219.4 1040.2,219.4 1044.7,208.1 1049.3,208.1 1053.8,208.1 1058.4,208.1 1062.9,208.1 1067.5,208.1 1072.0,208.1 1076.6,204.9 1081.1,202.9 1085.7,202.9 1090.2,202.1 1094.8,202.1 1099.3,200.8 1103.9,197.9 1108.4,197.2 1113.0,194.4 1117.5,191.1 1122.1,190.8 1126.7,190.8 1131.2,190.6 1135.8,189.0 1140.3,187.8 1144.9,187.3 1149.4,186.7 1154.0,185.5 1158.5,185.5 1163.1,184.5 1167.6,177.1 1172.2,175.4 1176.7,175.4 1181.3,175.4 1185.8,168.7 1190.4,164.4 1194.9,160.6 1199.5,159.6 1204.0,159.3 1208.6,164.3 1213.1,164.3 1217.7,164.3 1222.2,164.3 1226.8,165.5 1231.3,169.8 1235.9,169.8 1240.5,170.5 1245.0,170.5 1249.6,170.5 1254.1,170.5 1258.7,167.7 1263.2,165.9 1267.8,165.9 1272.3,165.9 1276.9,165.9 1281.4,166.2 1286.0,166.6 1290.5,168.2 1295.1,171.2 1299.6,172.4 1304.2,172.4 1308.7,172.4 1313.3,172.4 1314.8,172.4"/>
<polyline fill="none" stroke="rgb(255,82,82)" stroke-opacity="0.42" stroke-width="3" stroke-linejoin="round" points="2.3,752.5 6.9,752.1 11.4,751.6 16.0,747.1 20.5,745.7 25.1,738.2 29.6,733.6 34.2,733.6 38.7,733.6 43.3,733.6 47.8,733.6 52.4,733.6 56.9,733.6 61.5,733.6 66.0,733.6 70.6,733.6 75.1,733.6 79.7,733.4 84.2,728.9 88.8,728.5 93.3,728.1 97.9,723.0 102.5,722.0 107.0,720.8 111.6,717.0 116.1,713.4 120.7,712.0 125.2,710.4 129.8,709.5 134.3,708.7 138.9,707.4 143.4,701.7 148.0,701.6 152.5,701.6 157.1,701.6 161.6,701.5 166.2,701.5 170.7,701.4 175.3,701.4 179.8,701.3 184.4,701.3 188.9,701.2 193.5,701.2 198.0,696.0 202.6,695.3 207.1,695.2 211.7,695.1 216.3,695.0 220.8,694.9 225.4,694.8 229.9,693.6 234.5,693.6 239.0,693.6 243.6,693.6 248.1,693.6 252.7,693.6 257.2,693.6 261.8,693.6 266.3,693.6 270.9,693.6 275.4,693.6 280.0,693.6 284.5,693.6 289.1,690.7 293.6,690.7 298.2,690.7 302.7,690.7 307.3,690.7 311.8,690.7 316.4,690.7 320.9,690.7 325.5,690.7 330.1,690.7 334.6,690.7 339.2,690.7 343.7,690.7 348.3,690.7 352.8,690.7 357.4,690.7 361.9,690.7 366.5,690.7 371.0,690.7 375.6,690.7 380.1,690.7 384.7,690.7 389.2,690.7 393.8,679.6 398.3,679.6 402.9,679.6 407.4,679.6 412.0,677.8 416.5,676.8 421.1,670.8 425.6,669.8 430.2,669.8 434.7,669.8 439.3,666.5 443.9,666.5 448.4,665.1 453.0,665.1 457.5,662.9 462.1,643.2 466.6,640.4 471.2,640.4 475.7,640.4 480.3,639.9 484.8,639.9 489.4,639.6 493.9,634.9 498.5,633.4 503.0,633.4 507.6,633.4 512.1,627.3 516.7,615.3 521.2,606.9 525.8,604.9 530.3,600.7 534.9,598.4 539.4,597.0 544.0,595.1 548.5,590.3 553.1,589.4 557.7,589.4 562.2,589.4 566.8,589.4 571.3,589.4 575.9,585.4 580.4,585.0 585.0,585.0 589.5,585.0 594.1,585.0 598.6,585.0 603.2,585.0 607.7,585.0 612.3,585.0 616.8,585.0 621.4,585.0 625.9,585.0 630.5,585.0 635.0,585.0 639.6,585.0 644.1,585.0 648.7,567.9 653.2,546.3 657.8,546.3 662.3,542.6 666.9,541.4 671.5,541.4 676.0,541.4 680.6,541.4 685.1,541.4 689.7,536.9 694.2,518.3 698.8,505.4 703.3,505.4 707.9,505.4 712.4,500.3 717.0,497.8 721.5,494.8 726.1,467.1 730.6,456.0 735.2,456.0 739.7,456.0 744.3,440.0 748.8,416.8 753.4,407.0 757.9,407.0 762.5,407.0 767.0,407.0 771.6,407.0 776.1,407.0 780.7,407.0 785.3,407.0 789.8,407.0 794.4,407.0 798.9,407.0 803.5,407.0 808.0,407.0 812.6,406.7 817.1,405.6 821.7,405.6 826.2,405.6 830.8,405.6 835.3,405.6 839.9,405.6 844.4,405.6 849.0,405.6 853.5,404.8 858.1,404.7 862.6,404.6 867.2,404.6 871.7,404.6 876.3,404.6 880.8,402.8 885.4,401.5 889.9,400.7 894.5,373.3 899.1,365.6 903.6,365.6 908.2,362.9 912.7,361.4 917.3,361.1 921.8,356.9 926.4,356.6 930.9,350.6 935.5,339.3 940.0,335.4 944.6,317.6 949.1,312.0 953.7,308.4 958.2,308.4 962.8,307.9 967.3,307.9 971.9,307.5 976.4,306.9 981.0,306.6 985.5,306.6 990.1,306.6 994.6,306.2 999.2,305.1 1003.7,302.6 1008.3,301.6 1012.9,301.6 1017.4,299.9 1022.0,299.5 1026.5,298.3 1031.1,297.5 1035.6,296.8 1040.2,295.7 1044.7,281.3 1049.3,280.9 1053.8,280.6 1058.4,279.3 1062.9,279.3 1067.5,279.3 1072.0,279.3 1076.6,279.3 1081.1,279.3 1085.7,279.3 1090.2,279.3 1094.8,279.3 1099.3,279.3 1103.9,278.3 1108.4,276.5 1113.0,274.0 1117.5,273.8 1122.1,273.8 1126.7,273.8 1131.2,273.8 1135.8,273.8 1140.3,273.8 1144.9,273.8 1149.4,273.8 1154.0,273.8 1158.5,273.8 1163.1,273.8 1167.6,273.8 1172.2,272.0 1176.7,269.2 1181.3,268.1 1185.8,260.1 1190.4,254.9 1194.9,247.8 1199.5,245.3 1204.0,245.3 1208.6,245.3 1213.1,245.3 1217.7,243.6 1222.2,242.8 1226.8,242.4 1231.3,239.8 1235.9,235.9 1240.5,231.5 1245.0,231.3 1249.6,231.3 1254.1,226.1 1258.7,225.1 1263.2,225.1 1267.8,225.1 1272.3,225.1 1276.9,225.1 1281.4,221.6 1286.0,221.6 1290.5,221.6 1295.1,221.6 1299.6,221.6 1304.2,221.6 1308.7,221.6 1313.3,221.6 1314.8,221.6"/>
<polyline fill="none" stroke="rgb(0,0,255)" stroke-opacity="0.2" stroke-width="3" stroke-linejoin="round" points="2.3,690.7 6.9,689.6 11.4,689.6 16.0,689.6 20.5,689.6 25.1,689.6 29.6,689.6 34.2,689.6 38.7,688.1 43.3,688.1 47.8,688.1 52.4,688.1 56.9,688.1 61.5,688.1 66.0,688.1 70.6,687.5 75.1,687.5 79.7,687.5 84.2,687.5 88.8,687.5 93.3,687.5 97.9,687.5 102.5,686.2 107.0,685.9 111.6,684.2 116.1,681.6 120.7,681.3 125.2,680.4 129.8,678.7 134.3,676.2 138.9,676.2 143.4,676.2 148.0,676.2 152.5,676.2 157.1,676.2 161.6,676.2 166.2,676.2 170.7,676.2 175.3,676.2 179.8,676.2 184.4,676.2 188.9,676.2 193.5,676.2 198.0,676.2 202.6,676.2 207.1,676.2 211.7,676.2 216.3,676.2 220.8,676.2 225.4,676.2 229.9,676.2 234.5,677.3 239.0,681.8 243.6,681.8 248.1,681.8 252.7,681.8 257.2,665.6 261.8,665.6 266.3,665.6 270.9,665.6 275.4,663.9 280.0,663.9 284.5,658.1 289.1,657.1 293.6,657.1 298.2,657.1 302.7,654.0 307.3,654.0 311.8,654.0 316.4,654.0 320.9,651.5 325.5,632.5 330.1,629.8 334.6,628.2 339.2,626.3 343.7,626.3 348.3,626.3 352.8,626.1 357.4,621.5 361.9,620.0 366.5,620.0 371.0,620.0 375.6,615.3 380.1,603.9 384.7,597.2 389.2,597.2 393.8,593.3 398.3,591.7 402.9,591.1 407.4,589.1 412.0,584.4 416.5,583.5 421.1,583.5 425.6,583.5 430.2,583.5 434.7,583.5 439.3,579.6 443.9,577.8 448.4,577.6 453.0,577.6 457.5,577.6 462.1,577.5 466.6,577.5 471.2,574.4 475.7,572.2 480.3,570.8 484.8,570.8 489.4,570.6 493.9,570.6 498.5,570.6 503.0,570.6 507.6,570.0 512.1,552.9 516.7,531.7 521.2,529.3 525.8,523.9 530.3,515.8 534.9,515.5 539.4,515.0 544.0,515.0 548.5,515.0 553.1,509.9 557.7,492.8 562.2,480.3 566.8,479.1 571.3,478.6 575.9,473.8 580.4,471.6 585.0,468.2 589.5,441.0 594.1,427.2 598.6,425.6 603.2,425.6 607.7,409.5 612.3,388.7 616.8,378.2 621.4,377.2 625.9,376.3 630.5,374.8 635.0,374.8 639.6,374.3 644.1,373.9 648.7,372.1 653.2,372.1 657.8,372.1 662.3,372.1 666.9,372.1 671.5,372.1 676.0,372.1 680.6,372.1 685.1,372.1 689.7,372.1 694.2,370.9 698.8,368.4 703.3,365.0 707.9,364.7 712.4,364.7 717.0,364.7 721.5,364.7 726.1,364.7 730.6,364.7 735.2,364.7 739.7,364.7 744.3,364.7 748.8,364.7 753.4,364.7 757.9,340.1 762.5,331.1 767.0,327.8 771.6,324.1 776.1,322.6 780.7,321.4 785.3,309.3 789.8,306.3 794.4,302.4 798.9,293.5 803.5,293.5 808.0,276.2 812.6,270.6 817.1,267.0 821.7,264.2 826.2,260.1 830.8,255.2 835.3,255.0 839.9,255.0 844.4,249.5 849.0,248.4 853.5,248.4 858.1,248.4 862.6,248.4 867.2,248.4 871.7,244.6 876.3,244.6 880.8,244.6 885.4,244.6 889.9,244.6 894.5,244.6 899.1,244.6 903.6,244.6 908.2,232.3 912.7,232.3 917.3,232.3 921.8,232.3 926.4,232.3 930.9,232.3 935.5,232.3 940.0,232.3 944.6,232.3 949.1,232.3 953.7,230.6 958.2,230.6 962.8,230.6 967.3,230.6 971.9,230.6 976.4,228.1 981.0,220.8 985.5,220.2 990.1,220.2 994.6,219.8 999.2,216.0 1003.7,209.6 1008.3,207.0 1012.9,205.7 1017.4,203.2 1022.0,203.2 1026.5,201.1 1031.1,185.6 1035.6,185.6 1040.2,185.6 1044.7,185.6 1049.3,179.5 1053.8,176.3 1058.4,176.3 1062.9,176.3 1067.5,176.3 1072.0,176.3 1076.6,176.3 1081.1,176.3 1085.7,176.3 1090.2,176.3 1094.8,176.3 1099.3,176.3 1103.9,176.3 1108.4,176.3 1113.0,176.3 1117.5,176.3 1122.1,170.6 1126.7,167.0 1131.2,167.0 1135.8,167.0 1140.3,167.0 1144.9,164.8 1149.4,164.8 1154.0,164.8 1158.5,164.8 1163.1,164.8 1167.6,164.8 1172.2,164.8 1176.7,164.8"/>
<g shape-rendering="crispEdges">
<rect x="1348" y="117" width="3" height="2" fill="rgba(21,146,230,0.25)" />
<rect x="1346" y="117" width="2" height="2" fill="rgba(251,193,35,0.25)" />
<rect x="1347" y="120" width="4" height="2" fill="rgba(21,146,230,0.25)" />
<rect x="1345" y="120" width="2" height="2" fill="rgba(251,193,35,0.25)" />
<rect x="1341" y="123" width="10" height="1" fill="rgba(21,146,230,0.25)" />
<rect x="1328" y="123" width="13" height="1" fill="rgba(251,193,35,0.25)" />
<rect x="1338" y="125" width="13" height="2" fill="rgba(21,146,230,0.25)" />
<rect x="1323" y="125" width="15" height="2" fill="rgba(251,193,35,0.25)" />
<rect x="1342" y="128" width="9" height="2" fill="rgba(21,146,230,0.25)" />
<rect x="1334" y="128" width="8" height="2" fill="rgba(251,193,35,0.25)" />
<rect x="1342" y="131" width="9" height="2" fill="rgba(21,146,230,0.25)" />
<rect x="1334" y="131" width="8" height="2" fill="rgba(251,193,35,0.25)" />
<rect x="1335" y="134" width="16" height="2" fill="rgba(21,146,230,0.25)" />
<rect x="1327" y="134" width="8" height="2" fill="rgba(251,193,35,0.25)" />
<rect x="1332" y="137" width="19" height="2" fill="rgba(21,146,230,0.25)" />
<rect x="1320" y="137" width="12" height="2" fill="rgba(251,193,35,0.25)" />
<rect x="1330" y="140" width="21" height="1" fill="rgba(21,146,230,0.25)" />
<rect x="1307" y="140" width="23" height="1" fill="rgba(251,193,35,0.25)" />
<rect x="1323" y="142" width="28" height="2" fill="rgba(21,146,230,0.25)" />
<rect x="1294" y="142" width="29" height="2" fill="rgba(251,193,35,0.25)" />
<rect x="1309" y="145" width="42" height="2" fill="rgba(21,146,230,0.25)" />
<rect x="1261" y="145" width="48" height="2" fill="rgba(251,193,35,0.25)" />
<rect x="1303" y="148" width="48" height="2" fill="rgba(21,146,230,0.25)" />
<rect x="1242" y="148" width="61" height="2" fill="rgba(251,193,35,0.25)" />
<rect x="1288" y="151" width="63" height="2" fill="rgba(21,146,230,0.25)" />
<rect x="1215" y="151" width="73" height="2" fill="rgba(251,193,35,0.25)" />
<rect x="1283" y="154" width="68" height="2" fill="rgba(21,146,230,0.25)" />
<rect x="1197" y="154" width="86" height="2" fill="rgba(251,193,35,0.25)" />
<rect x="1280" y="157" width="71" height="2" fill="rgba(21,146,230,0.25)" />
<rect x="1203" y="157" width="77" height="2" fill="rgba(251,193,35,0.25)" />
<rect x="1271" y="160" width="80" height="3" fill="rgba(21,146,230,0.25)" />
<rect x="1203" y="160" width="68" height="3" fill="rgba(251,193,35,0.25)" />
<rect x="1271" y="164" width="80" height="2" fill="rgba(21,146,230,0.25)" />
<rect x="1196" y="164" width="75" height="2" fill="rgba(251,193,35,0.25)" />
<rect x="1281" y="167" width="70" height="2" fill="rgba(21,146,230,0.25)" />
<rect x="1223" y="167" width="58" height="2" fill="rgba(251,193,35,0.25)" />
<rect x="1291" y="170" width="60" height="2" fill="rgba(21,146,230,0.25)" />
<rect x="1223" y="170" width="68" height="2" fill="rgba(251,193,35,0.25)" />
<rect x="1298" y="173" width="53" height="2" fill="rgba(21,146,230,0.25)" />
<rect x="1242" y="173" width="56" height="2" fill="rgba(251,193,35,0.25)" />
<rect x="1309" y="176" width="42" height="2" fill="rgba(21,146,230,0.25)" />
<rect x="1265" y="176" width="44" height="2" fill="rgba(251,193,35,0.25)" />
<rect x="1325" y="179" width="26" height="3" fill="rgba(21,146,230,0.25)" />
<rect x="1301" y="179" width="24" height="3" fill="rgba(251,193,35,0.25)" />
<rect x="1324" y="183" width="27" height="2" fill="rgba(21,146,230,0.25)" />
<rect x="1293" y="183" width="31" height="2" fill="rgba(251,193,35,0.25)" />
<rect x="1322" y="186" width="29" height="2" fill="rgba(21,146,230,0.25)" />
<rect x="1276" y="186" width="46" height="2" fill="rgba(251,193,35,0.25)" />
<rect x="1320" y="189" width="31" height="3" fill="rgba(21,146,230,0.25)" />
<rect x="1275" y="189" width="45" height="3" fill="rgba(251,193,35,0.25)" />
<rect x="1314" y="193" width="37" height="2" fill="rgba(21,146,230,0.25)" />
<rect x="1267" y="193" width="47" height="2" fill="rgba(251,193,35,0.25)" />
<rect x="1312" y="196" width="39" height="3" fill="rgba(21,146,230,0.25)" />
<rect x="1271" y="196" width="41" height="3" fill="rgba(251,193,35,0.25)" />
<rect x="1310" y="200" width="41" height="2" fill="rgba(21,146,230,0.25)" />
<rect x="1277" y="200" width="33" height="2" fill="rgba(251,193,35,0.25)" />
<rect x="1305" y="203" width="46" height="3" fill="rgba(21,146,230,0.25)" />
<rect x="1245" y="203" width="60" height="3" fill="rgba(251,193,35,0.25)" />
<rect x="1304" y="207" width="47" height="2" fill="rgba(21,146,230,0.25)" />
<rect x="1247" y="207" width="57" height="2" fill="rgba(251,193,35,0.25)" />
<rect x="1302" y="210" width="49" height="3" fill="rgba(21,146,230,0.25)" />
<rect x="1255" y="210" width="47" height="3" fill="rgba(251,193,35,0.25)" />
<rect x="1284" y="214" width="67" height="3" fill="rgba(21,146,230,0.7)" />
<rect x="1233" y="214" width="51" height="3" fill="rgba(251,193,35,0.7)" />
<rect x="1289" y="218" width="62" height="2" fill="rgba(21,146,230,0.7)" />
<rect x="1242" y="218" width="47" height="2" fill="rgba(251,193,35,0.7)" />
<rect x="1302" y="221" width="49" height="3" fill="rgba(21,146,230,0.7)" />
<rect x="1267" y="221" width="35" height="3" fill="rgba(251,193,35,0.7)" />
<rect x="1323" y="225" width="28" height="3" fill="rgba(21,146,230,0.7)" />
<rect x="1302" y="225" width="21" height="3" fill="rgba(251,193,35,0.7)" />
<rect x="1333" y="229" width="18" height="3" fill="rgba(21,146,230,0.7)" />
<rect x="1312" y="229" width="21" height="3" fill="rgba(251,193,35,0.7)" />
<rect x="1335" y="233" width="16" height="3" fill="rgba(21,146,230,0.7)" />
<rect x="1320" y="233" width="15" height="3" fill="rgba(251,193,35,0.7)" />
<rect x="1335" y="237" width="16" height="3" fill="rgba(21,146,230,0.7)" />
<rect x="1324" y="237" width="11" height="3" fill="rgba(251,193,35,0.7)" />
<rect x="1342" y="241" width="9" height="3" fill="rgba(21,146,230,0.7)" />
<rect x="1334" y="241" width="8" height="3" fill="rgba(251,193,35,0.7)" />
<rect x="1343" y="245" width="8" height="3" fill="rgba(21,146,230,0.7)" />
<rect x="1339" y="245" width="4" height="3" fill="rgba(251,193,35,0.7)" />
<rect x="1348" y="249" width="3" height="3" fill="rgba(21,146,230,0.7)" />
<rect x="1345" y="249" width="3" height="3" fill="rgba(251,193,35,0.7)" />
<rect x="1348" y="253" width="3" height="3" fill="rgba(21,146,230,0.7)" />
<rect x="1346" y="253" width="2" height="3" fill="rgba(251,193,35,0.7)" />
<rect x="1345" y="257" width="6" height="3" fill="rgba(21,146,230,0.7)" />
<rect x="1336" y="257" width="9" height="3" fill="rgba(251,193,35,0.7)" />
<rect x="1332" y="261" width="19" height="3" fill="rgba(21,146,230,0.7)" />
<rect x="1312" y="261" width="20" height="3" fill="rgba(251,193,35,0.7)" />
<rect x="1323" y="265" width="28" height="4" fill="rgba(21,146,230,0.7)" />
<rect x="1295" y="265" width="28" height="4" fill="rgba(251,193,35,0.7)" />
<rect x="1316" y="270" width="35" height="3" fill="rgba(21,146,230,0.7)" />
<rect x="1295" y="270" width="21" height="3" fill="rgba(251,193,35,0.7)" />
<rect x="1312" y="274" width="39" height="4" fill="rgba(21,146,230,0.7)" />
<rect x="1284" y="274" width="28" height="4" fill="rgba(251,193,35,0.7)" />
<rect x="1308" y="279" width="43" height="3" fill="rgba(21,146,230,0.7)" />
<rect x="1282" y="279" width="26" height="3" fill="rgba(251,193,35,0.7)" />
<rect x="1302" y="283" width="49" height="4" fill="rgba(21,146,230,0.7)" />
<rect x="1269" y="283" width="33" height="4" fill="rgba(251,193,35,0.7)" />
<rect x="1294" y="288" width="57" height="3" fill="rgba(21,146,230,0.7)" />
<rect x="1245" y="288" width="49" height="3" fill="rgba(251,193,35,0.7)" />
<rect x="1294" y="292" width="57" height="4" fill="rgba(21,146,230,0.7)" />
<rect x="1241" y="292" width="53" height="4" fill="rgba(251,193,35,0.7)" />
<rect x="1295" y="297" width="56" height="4" fill="rgba(21,146,230,0.7)" />
<rect x="1253" y="297" width="42" height="4" fill="rgba(251,193,35,0.7)" />
<rect x="1304" y="302" width="47" height="4" fill="rgba(21,146,230,0.7)" />
<rect x="1258" y="302" width="46" height="4" fill="rgba(251,193,35,0.7)" />
<rect x="1295" y="307" width="56" height="4" fill="rgba(21,146,230,0.7)" />
<rect x="1246" y="307" width="49" height="4" fill="rgba(251,193,35,0.7)" />
<rect x="1280" y="312" width="71" height="4" fill="rgba(21,146,230,0.7)" />
<rect x="1219" y="312" width="61" height="4" fill="rgba(251,193,35,0.7)" />
<rect x="1275" y="317" width="76" height="4" fill="rgba(21,146,230,0.7)" />
<rect x="1198" y="317" width="77" height="4" fill="rgba(251,193,35,0.7)" />
<rect x="1265" y="322" width="86" height="4" fill="rgba(21,146,230,0.7)" />
<rect x="1187" y="322" width="78" height="4" fill="rgba(251,193,35,0.7)" />
<rect x="1285" y="327" width="66" height="4" fill="rgba(21,146,230,0.7)" />
<rect x="1228" y="327" width="57" height="4" fill="rgba(251,193,35,0.7)" />
<rect x="1278" y="332" width="73" height="5" fill="rgba(21,146,230,0.7)" />
<rect x="1210" y="332" width="68" height="5" fill="rgba(251,193,35,0.7)" />
<rect x="1274" y="338" width="77" height="4" fill="rgba(21,146,230,0.7)" />
<rect x="1211" y="338" width="63" height="4" fill="rgba(251,193,35,0.7)" />
<rect x="1289" y="343" width="62" height="4" fill="rgba(21,146,230,0.7)" />
<rect x="1222" y="343" width="67" height="4" fill="rgba(251,193,35,0.7)" />
<rect x="1309" y="348" width="42" height="5" fill="rgba(21,146,230,0.7)" />
<rect x="1253" y="348" width="56" height="5" fill="rgba(251,193,35,0.7)" />
<rect x="1318" y="354" width="33" height="5" fill="rgba(21,146,230,0.7)" />
<rect x="1284" y="354" width="34" height="5" fill="rgba(251,193,35,0.7)" />
<rect x="1328" y="360" width="23" height="5" fill="rgba(21,146,230,0.7)" />
<rect x="1311" y="360" width="17" height="5" fill="rgba(251,193,35,0.7)" />
<rect x="1317" y="366" width="34" height="5" fill="rgba(21,146,230,0.7)" />
<rect x="1295" y="366" width="22" height="5" fill="rgba(251,193,35,0.7)" />
<rect x="1306" y="372" width="45" height="5" fill="rgba(21,146,230,0.7)" />
<rect x="1289" y="372" width="17" height="5" fill="rgba(251,193,35,0.7)" />
<rect x="1329" y="378" width="22" height="5" fill="rgba(21,146,230,0.7)" />
<rect x="1318" y="378" width="11" height="5" fill="rgba(251,193,35,0.7)" />
<rect x="1333" y="384" width="18" height="5" fill="rgba(21,146,230,0.7)" />
<rect x="1327" y="384" width="6" height="5" fill="rgba(251,193,35,0.7)" />
<rect x="1324" y="390" width="27" height="6" fill="rgba(21,146,230,0.7)" />
<rect x="1305" y="390" width="19" height="6" fill="rgba(251,193,35,0.7)" />
<rect x="1313" y="397" width="38" height="5" fill="rgba(21,146,230,0.7)" />
<rect x="1288" y="397" width="25" height="5" fill="rgba(251,193,35,0.7)" />
<rect x="1337" y="403" width="14" height="6" fill="rgba(21,146,230,0.7)" />
<rect x="1327" y="403" width="10" height="6" fill="rgba(251,193,35,0.7)" />
<rect x="1342" y="410" width="9" height="6" fill="rgba(21,146,230,0.7)" />
<rect x="1342" y="417" width="9" height="6" fill="rgba(21,146,230,0.7)" />
<rect x="1339" y="417" width="3" height="6" fill="rgba(251,193,35,0.7)" />
<rect x="1338" y="424" width="13" height="6" fill="rgba(21,146,230,0.7)" />
<rect x="1332" y="424" width="6" height="6" fill="rgba(251,193,35,0.7)" />
<rect x="1306" y="431" width="45" height="6" fill="rgba(21,146,230,0.7)" />
<rect x="1282" y="431" width="24" height="6" fill="rgba(251,193,35,0.7)" />
<rect x="1278" y="438" width="73" height="7" fill="rgba(21,146,230,0.7)" />
<rect x="1226" y="438" width="52" height="7" fill="rgba(251,193,35,0.7)" />
<rect x="1303" y="446" width="48" height="6" fill="rgba(21,146,230,0.7)" />
<rect x="1245" y="446" width="58" height="6" fill="rgba(251,193,35,0.7)" />
<rect x="1335" y="453" width="16" height="7" fill="rgba(21,146,230,0.7)" />
<rect x="1328" y="453" width="7" height="7" fill="rgba(251,193,35,0.7)" />
<rect x="1338" y="461" width="13" height="7" fill="rgba(21,146,230,0.7)" />
<rect x="1338" y="469" width="13" height="8" fill="rgba(21,146,230,0.7)" />
<rect x="1331" y="478" width="20" height="7" fill="rgba(21,146,230,0.7)" />
<rect x="1337" y="486" width="14" height="8" fill="rgba(21,146,230,0.7)" />
<rect x="1335" y="486" width="2" height="8" fill="rgba(251,193,35,0.7)" />
<rect x="1267" y="495" width="84" height="8" fill="rgba(21,146,230,0.7)" />
<rect x="1189" y="495" width="78" height="8" fill="rgba(251,193,35,0.7)" />
<rect x="1255" y="504" width="96" height="8" fill="rgba(21,146,230,0.7)" />
<rect x="1145" y="504" width="110" height="8" fill="rgba(251,193,35,0.7)" />
<rect x="1255" y="513" width="96" height="9" fill="rgba(21,146,230,0.7)" />
<rect x="1156" y="513" width="99" height="9" fill="rgba(251,193,35,0.7)" />
<rect x="1276" y="523" width="75" height="8" fill="rgba(21,146,230,0.7)" />
<rect x="1201" y="523" width="75" height="8" fill="rgba(251,193,35,0.7)" />
<rect x="1317" y="532" width="34" height="10" fill="rgba(21,146,230,0.7)" />
<rect x="1278" y="532" width="39" height="10" fill="rgba(251,193,35,0.7)" />
<rect x="1319" y="543" width="32" height="9" fill="rgba(21,146,230,0.7)" />
<rect x="1272" y="543" width="47" height="9" fill="rgba(251,193,35,0.7)" />
<rect x="1308" y="553" width="43" height="10" fill="rgba(21,146,230,0.7)" />
<rect x="1260" y="553" width="48" height="10" fill="rgba(251,193,35,0.7)" />
<rect x="1291" y="564" width="60" height="10" fill="rgba(21,146,230,0.7)" />
<rect x="1215" y="564" width="76" height="10" fill="rgba(251,193,35,0.7)" />
<rect x="1296" y="575" width="55" height="11" fill="rgba(21,146,230,0.7)" />
<rect x="1270" y="575" width="26" height="11" fill="rgba(251,193,35,0.7)" />
<rect x="1327" y="587" width="24" height="11" fill="rgba(21,146,230,0.7)" />
<rect x="1323" y="587" width="4" height="11" fill="rgba(251,193,35,0.7)" />
<rect x="1299" y="599" width="52" height="11" fill="rgba(21,146,230,0.7)" />
<rect x="1271" y="599" width="28" height="11" fill="rgba(251,193,35,0.7)" />
<rect x="1269" y="611" width="82" height="12" fill="rgba(21,146,230,0.7)" />
<rect x="1211" y="611" width="58" height="12" fill="rgba(251,193,35,0.7)" />
<rect x="1282" y="624" width="69" height="13" fill="rgba(21,146,230,0.7)" />
<rect x="1223" y="624" width="59" height="13" fill="rgba(251,193,35,0.7)" />
<rect x="1332" y="638" width="19" height="13" fill="rgba(21,146,230,0.7)" />
<rect x="1326" y="638" width="6" height="13" fill="rgba(251,193,35,0.7)" />
<rect x="1280" y="652" width="71" height="14" fill="rgba(21,146,230,0.7)" />
<rect x="1209" y="652" width="71" height="14" fill="rgba(251,193,35,0.7)" />
<rect x="1247" y="667" width="104" height="15" fill="rgba(21,146,230,0.7)" />
<rect x="1139" y="667" width="108" height="15" fill="rgba(251,193,35,0.7)" />
<rect x="1168" y="683" width="183" height="15" fill="rgba(21,146,230,0.7)" />
<rect x="1001" y="683" width="167" height="15" fill="rgba(251,193,35,0.7)" />
<rect x="1245" y="699" width="106" height="16" fill="rgba(21,146,230,0.7)" />
<rect x="1158" y="699" width="87" height="16" fill="rgba(251,193,35,0.7)" />
</g>
<polygon fill="rgba(76,175,80,0.18)" points="256.7,618.5 329.6,591 329.6,613 258,639.7"/>
<line x1="256.7" y1="618.5" x2="329.6" y2="591" stroke="#7B1FA2" stroke-opacity="0.75" stroke-width="1.3"/>
<line x1="258" y1="639.7" x2="329.6" y2="613" stroke="#7B1FA2" stroke-opacity="0.75" stroke-width="1.3"/>
<line x1="397" y1="499" x2="1351" y2="499" stroke="#F23B30" stroke-width="3" shape-rendering="crispEdges"/>
<line x1="7" y1="647.5" x2="1351" y2="647.5" stroke="#FF0000" stroke-width="3" shape-rendering="crispEdges"/>
<line x1="7" y1="717.5" x2="1351" y2="717.5" stroke="#FF0000" stroke-width="3" shape-rendering="crispEdges"/>
<line x1="7" y1="762.5" x2="1351" y2="762.5" stroke="#F23B30" stroke-width="3" shape-rendering="crispEdges"/>
<line x1="7" y1="695.5" x2="1351" y2="695.5" stroke="#FF0000" stroke-width="3" stroke-dasharray="15 18" shape-rendering="crispEdges"/>
<line x1="420.3" y1="558.3" x2="543.1" y2="511.5" stroke="#000" stroke-width="3.4"/>
<line x1="324" y1="565.5" x2="370" y2="565.5" stroke="#000" stroke-width="3" shape-rendering="crispEdges"/>
<line x1="333.9" y1="591" x2="370.2" y2="575.3" stroke="#000" stroke-width="3.4"/>
<line x1="6.9" y1="739.3" x2="274.2" y2="754.2" stroke="#000" stroke-width="3"/>
<g shape-rendering="crispEdges">
<rect x="6" y="663" width="1" height="14" fill="#EF5350" />
<rect x="5" y="667" width="3" height="5" fill="#EF5350" />
<rect x="10" y="665" width="1" height="8" fill="#26A69A" />
<rect x="9" y="665" width="3" height="7" fill="#26A69A" />
<rect x="15" y="664" width="1" height="5" fill="#EF5350" />
<rect x="14" y="665" width="3" height="3" fill="#EF5350" />
<rect x="20" y="660" width="1" height="8" fill="#26A69A" />
<rect x="19" y="660" width="3" height="8" fill="#26A69A" />
<rect x="24" y="658" width="1" height="7" fill="#EF5350" />
<rect x="23" y="660" width="3" height="3" fill="#EF5350" />
<rect x="29" y="650" width="1" height="17" fill="#26A69A" />
<rect x="28" y="654" width="3" height="9" fill="#26A69A" />
<rect x="33" y="654" width="1" height="23" fill="#EF5350" />
<rect x="32" y="654" width="3" height="16" fill="#EF5350" />
<rect x="38" y="667" width="1" height="45" fill="#EF5350" />
<rect x="37" y="669" width="3" height="37" fill="#EF5350" />
<rect x="42" y="690" width="1" height="25" fill="#26A69A" />
<rect x="41" y="695" width="3" height="11" fill="#26A69A" />
<rect x="47" y="693" width="1" height="24" fill="#EF5350" />
<rect x="46" y="695" width="3" height="11" fill="#EF5350" />
<rect x="51" y="698" width="1" height="13" fill="#26A69A" />
<rect x="50" y="702" width="3" height="4" fill="#26A69A" />
<rect x="56" y="697" width="1" height="18" fill="#26A69A" />
<rect x="55" y="699" width="3" height="4" fill="#26A69A" />
<rect x="60" y="697" width="1" height="19" fill="#EF5350" />
<rect x="59" y="699" width="3" height="8" fill="#EF5350" />
<rect x="65" y="699" width="1" height="13" fill="#26A69A" />
<rect x="64" y="703" width="3" height="4" fill="#26A69A" />
<rect x="70" y="695" width="1" height="10" fill="#26A69A" />
<rect x="69" y="700" width="3" height="4" fill="#26A69A" />
<rect x="74" y="698" width="1" height="7" fill="#26A69A" />
<rect x="73" y="698" width="3" height="3" fill="#26A69A" />
<rect x="79" y="695" width="1" height="8" fill="#26A69A" />
<rect x="78" y="696" width="3" height="3" fill="#26A69A" />
<rect x="83" y="692" width="1" height="13" fill="#EF5350" />
<rect x="82" y="696" width="3" height="5" fill="#EF5350" />
<rect x="88" y="687" width="1" height="16" fill="#26A69A" />
<rect x="87" y="690" width="3" height="11" fill="#26A69A" />
<rect x="92" y="682" width="1" height="10" fill="#26A69A" />
<rect x="91" y="686" width="3" height="5" fill="#26A69A" />
<rect x="97" y="677" width="1" height="14" fill="#26A69A" />
<rect x="96" y="681" width="3" height="6" fill="#26A69A" />
<rect x="101" y="679" width="1" height="10" fill="#EF5350" />
<rect x="100" y="681" width="3" height="2" fill="#EF5350" />
<rect x="106" y="679" width="1" height="8" fill="#EF5350" />
<rect x="105" y="682" width="3" height="1" fill="#EF5350" />
<rect x="111" y="675" width="1" height="9" fill="#26A69A" />
<rect x="110" y="678" width="3" height="5" fill="#26A69A" />
<rect x="115" y="678" width="1" height="10" fill="#EF5350" />
<rect x="114" y="678" width="3" height="5" fill="#EF5350" />
<rect x="120" y="680" width="1" height="26" fill="#EF5350" />
<rect x="119" y="682" width="3" height="16" fill="#EF5350" />
<rect x="124" y="692" width="1" height="8" fill="#26A69A" />
<rect x="123" y="694" width="3" height="4" fill="#26A69A" />
<rect x="129" y="694" width="1" height="13" fill="#EF5350" />
<rect x="128" y="694" width="3" height="10" fill="#EF5350" />
<rect x="133" y="686" width="1" height="19" fill="#26A69A" />
<rect x="132" y="688" width="3" height="16" fill="#26A69A" />
<rect x="138" y="687" width="1" height="7" fill="#EF5350" />
<rect x="137" y="688" width="3" height="2" fill="#EF5350" />
<rect x="142" y="685" width="1" height="6" fill="#26A69A" />
<rect x="141" y="688" width="3" height="2" fill="#26A69A" />
<rect x="147" y="686" width="1" height="7" fill="#26A69A" />
<rect x="146" y="687" width="3" height="2" fill="#26A69A" />
<rect x="152" y="681" width="1" height="11" fill="#EF5350" />
<rect x="151" y="687" width="3" height="3" fill="#EF5350" />
<rect x="156" y="684" width="1" height="8" fill="#26A69A" />
<rect x="155" y="685" width="3" height="5" fill="#26A69A" />
<rect x="161" y="684" width="1" height="7" fill="#EF5350" />
<rect x="160" y="685" width="3" height="2" fill="#EF5350" />
<rect x="165" y="682" width="1" height="16" fill="#EF5350" />
<rect x="164" y="686" width="3" height="6" fill="#EF5350" />
<rect x="170" y="690" width="1" height="10" fill="#EF5350" />
<rect x="169" y="691" width="3" height="3" fill="#EF5350" />
<rect x="174" y="691" width="1" height="5" fill="#EF5350" />
<rect x="173" y="693" width="3" height="1" fill="#EF5350" />
<rect x="179" y="689" width="1" height="6" fill="#26A69A" />
<rect x="178" y="690" width="3" height="4" fill="#26A69A" />
<rect x="183" y="686" width="1" height="6" fill="#26A69A" />
<rect x="182" y="686" width="3" height="5" fill="#26A69A" />
<rect x="188" y="686" width="1" height="9" fill="#EF5350" />
<rect x="187" y="686" width="3" height="7" fill="#EF5350" />
<rect x="192" y="689" width="1" height="6" fill="#26A69A" />
<rect x="191" y="689" width="3" height="4" fill="#26A69A" />
<rect x="197" y="681" width="1" height="14" fill="#26A69A" />
<rect x="196" y="682" width="3" height="8" fill="#26A69A" />
<rect x="202" y="677" width="1" height="9" fill="#26A69A" />
<rect x="201" y="678" width="3" height="5" fill="#26A69A" />
<rect x="206" y="666" width="1" height="14" fill="#26A69A" />
<rect x="205" y="672" width="3" height="7" fill="#26A69A" />
<rect x="211" y="668" width="1" height="5" fill="#26A69A" />
<rect x="210" y="670" width="3" height="3" fill="#26A69A" />
<rect x="215" y="660" width="1" height="16" fill="#26A69A" />
<rect x="214" y="665" width="3" height="6" fill="#26A69A" />
<rect x="220" y="664" width="1" height="8" fill="#EF5350" />
<rect x="219" y="665" width="3" height="4" fill="#EF5350" />
<rect x="224" y="665" width="1" height="8" fill="#EF5350" />
<rect x="223" y="668" width="3" height="1" fill="#EF5350" />
<rect x="229" y="663" width="1" height="11" fill="#26A69A" />
<rect x="228" y="666" width="3" height="3" fill="#26A69A" />
<rect x="233" y="665" width="1" height="10" fill="#EF5350" />
<rect x="232" y="666" width="3" height="6" fill="#EF5350" />
<rect x="238" y="668" width="1" height="6" fill="#26A69A" />
<rect x="237" y="670" width="3" height="2" fill="#26A69A" />
<rect x="243" y="665" width="1" height="6" fill="#26A69A" />
<rect x="242" y="666" width="3" height="5" fill="#26A69A" />
<rect x="247" y="657" width="1" height="12" fill="#26A69A" />
<rect x="246" y="659" width="3" height="8" fill="#26A69A" />
<rect x="252" y="651" width="1" height="11" fill="#26A69A" />
<rect x="251" y="655" width="3" height="5" fill="#26A69A" />
<rect x="256" y="621" width="1" height="35" fill="#26A69A" />
<rect x="255" y="632" width="3" height="24" fill="#26A69A" />
<rect x="261" y="622" width="1" height="14" fill="#26A69A" />
<rect x="260" y="627" width="3" height="6" fill="#26A69A" />
<rect x="265" y="626" width="1" height="9" fill="#EF5350" />
<rect x="264" y="627" width="3" height="3" fill="#EF5350" />
<rect x="270" y="623" width="1" height="8" fill="#26A69A" />
<rect x="269" y="624" width="3" height="6" fill="#26A69A" />
<rect x="274" y="618" width="1" height="13" fill="#EF5350" />
<rect x="273" y="624" width="3" height="3" fill="#EF5350" />
<rect x="279" y="621" width="1" height="12" fill="#26A69A" />
<rect x="278" y="625" width="3" height="2" fill="#26A69A" />
<rect x="284" y="608" width="1" height="19" fill="#26A69A" />
<rect x="283" y="612" width="3" height="14" fill="#26A69A" />
<rect x="288" y="607" width="1" height="24" fill="#EF5350" />
<rect x="287" y="612" width="3" height="9" fill="#EF5350" />
<rect x="293" y="612" width="1" height="17" fill="#26A69A" />
<rect x="292" y="616" width="3" height="5" fill="#26A69A" />
<rect x="297" y="611" width="1" height="14" fill="#26A69A" />
<rect x="296" y="614" width="3" height="3" fill="#26A69A" />
<rect x="302" y="601" width="1" height="17" fill="#26A69A" />
<rect x="301" y="608" width="3" height="7" fill="#26A69A" />
<rect x="306" y="606" width="1" height="7" fill="#EF5350" />
<rect x="305" y="608" width="3" height="2" fill="#EF5350" />
<rect x="311" y="607" width="1" height="16" fill="#EF5350" />
<rect x="310" y="609" width="3" height="6" fill="#EF5350" />
<rect x="315" y="602" width="1" height="19" fill="#26A69A" />
<rect x="314" y="603" width="3" height="12" fill="#26A69A" />
<rect x="320" y="598" width="1" height="17" fill="#26A69A" />
<rect x="319" y="600" width="3" height="4" fill="#26A69A" />
<rect x="325" y="566" width="1" height="36" fill="#26A69A" />
<rect x="324" y="569" width="3" height="32" fill="#26A69A" />
<rect x="329" y="562" width="1" height="17" fill="#EF5350" />
<rect x="328" y="569" width="3" height="2" fill="#EF5350" />
<rect x="334" y="566" width="1" height="31" fill="#EF5350" />
<rect x="333" y="570" width="3" height="16" fill="#EF5350" />
<rect x="338" y="568" width="1" height="21" fill="#26A69A" />
<rect x="337" y="572" width="3" height="14" fill="#26A69A" />
<rect x="343" y="564" width="1" height="23" fill="#EF5350" />
<rect x="342" y="572" width="3" height="4" fill="#EF5350" />
<rect x="347" y="572" width="1" height="9" fill="#EF5350" />
<rect x="346" y="575" width="3" height="1" fill="#EF5350" />
<rect x="352" y="561" width="1" height="16" fill="#26A69A" />
<rect x="351" y="567" width="3" height="9" fill="#26A69A" />
<rect x="356" y="554" width="1" height="20" fill="#26A69A" />
<rect x="355" y="555" width="3" height="13" fill="#26A69A" />
<rect x="361" y="552" width="1" height="11" fill="#26A69A" />
<rect x="360" y="555" width="3" height="1" fill="#26A69A" />
<rect x="365" y="555" width="1" height="13" fill="#EF5350" />
<rect x="364" y="555" width="3" height="6" fill="#EF5350" />
<rect x="370" y="558" width="1" height="8" fill="#EF5350" />
<rect x="369" y="560" width="3" height="3" fill="#EF5350" />
<rect x="375" y="544" width="1" height="21" fill="#26A69A" />
<rect x="374" y="547" width="3" height="16" fill="#26A69A" />
<rect x="379" y="526" width="1" height="25" fill="#26A69A" />
<rect x="378" y="530" width="3" height="18" fill="#26A69A" />
<rect x="384" y="516" width="1" height="23" fill="#26A69A" />
<rect x="383" y="528" width="3" height="3" fill="#26A69A" />
<rect x="388" y="521" width="1" height="16" fill="#26A69A" />
<rect x="387" y="527" width="3" height="2" fill="#26A69A" />
<rect x="393" y="510" width="1" height="19" fill="#26A69A" />
<rect x="392" y="512" width="3" height="16" fill="#26A69A" />
<rect x="397" y="507" width="1" height="12" fill="#26A69A" />
<rect x="396" y="511" width="3" height="2" fill="#26A69A" />
<rect x="402" y="511" width="1" height="21" fill="#EF5350" />
<rect x="401" y="511" width="3" height="6" fill="#EF5350" />
<rect x="406" y="511" width="1" height="14" fill="#EF5350" />
<rect x="405" y="516" width="3" height="2" fill="#EF5350" />
<rect x="411" y="500" width="1" height="24" fill="#26A69A" />
<rect x="410" y="504" width="3" height="14" fill="#26A69A" />
<rect x="416" y="498" width="1" height="18" fill="#EF5350" />
<rect x="415" y="504" width="3" height="8" fill="#EF5350" />
<rect x="420" y="508" width="1" height="50" fill="#EF5350" />
<rect x="419" y="511" width="3" height="29" fill="#EF5350" />
<rect x="425" y="533" width="1" height="21" fill="#EF5350" />
<rect x="424" y="539" width="3" height="1" fill="#EF5350" />
<rect x="429" y="525" width="1" height="20" fill="#26A69A" />
<rect x="428" y="528" width="3" height="12" fill="#26A69A" />
<rect x="434" y="518" width="1" height="15" fill="#26A69A" />
<rect x="433" y="520" width="3" height="9" fill="#26A69A" />
<rect x="438" y="493" width="1" height="29" fill="#26A69A" />
<rect x="437" y="495" width="3" height="26" fill="#26A69A" />
<rect x="443" y="492" width="1" height="31" fill="#EF5350" />
<rect x="442" y="495" width="3" height="17" fill="#EF5350" />
<rect x="447" y="501" width="1" height="18" fill="#26A69A" />
<rect x="446" y="503" width="3" height="9" fill="#26A69A" />
<rect x="452" y="497" width="1" height="13" fill="#26A69A" />
<rect x="451" y="499" width="3" height="5" fill="#26A69A" />
<rect x="457" y="498" width="1" height="17" fill="#EF5350" />
<rect x="456" y="499" width="3" height="14" fill="#EF5350" />
<rect x="461" y="504" width="1" height="12" fill="#26A69A" />
<rect x="460" y="504" width="3" height="9" fill="#26A69A" />
<rect x="466" y="500" width="1" height="10" fill="#26A69A" />
<rect x="465" y="500" width="3" height="5" fill="#26A69A" />
<rect x="470" y="500" width="1" height="9" fill="#EF5350" />
<rect x="469" y="500" width="3" height="5" fill="#EF5350" />
<rect x="475" y="502" width="1" height="19" fill="#EF5350" />
<rect x="474" y="504" width="3" height="15" fill="#EF5350" />
<rect x="479" y="513" width="1" height="18" fill="#26A69A" />
<rect x="478" y="514" width="3" height="5" fill="#26A69A" />
<rect x="484" y="514" width="1" height="13" fill="#EF5350" />
<rect x="483" y="514" width="3" height="6" fill="#EF5350" />
<rect x="488" y="519" width="1" height="14" fill="#EF5350" />
<rect x="487" y="519" width="3" height="5" fill="#EF5350" />
<rect x="493" y="508" width="1" height="17" fill="#26A69A" />
<rect x="492" y="510" width="3" height="14" fill="#26A69A" />
<rect x="497" y="500" width="1" height="13" fill="#26A69A" />
<rect x="496" y="504" width="3" height="7" fill="#26A69A" />
<rect x="502" y="501" width="1" height="7" fill="#26A69A" />
<rect x="501" y="502" width="3" height="3" fill="#26A69A" />
<rect x="507" y="497" width="1" height="10" fill="#26A69A" />
<rect x="506" y="499" width="3" height="4" fill="#26A69A" />
<rect x="511" y="467" width="1" height="36" fill="#26A69A" />
<rect x="510" y="470" width="3" height="30" fill="#26A69A" />
<rect x="516" y="436" width="1" height="37" fill="#26A69A" />
<rect x="515" y="449" width="3" height="22" fill="#26A69A" />
<rect x="520" y="442" width="1" height="14" fill="#26A69A" />
<rect x="519" y="444" width="3" height="6" fill="#26A69A" />
<rect x="525" y="430" width="1" height="21" fill="#26A69A" />
<rect x="524" y="435" width="3" height="10" fill="#26A69A" />
<rect x="529" y="429" width="1" height="17" fill="#EF5350" />
<rect x="528" y="435" width="3" height="6" fill="#EF5350" />
<rect x="534" y="431" width="1" height="32" fill="#EF5350" />
<rect x="533" y="440" width="3" height="11" fill="#EF5350" />
<rect x="538" y="435" width="1" height="21" fill="#26A69A" />
<rect x="537" y="435" width="3" height="16" fill="#26A69A" />
<rect x="543" y="431" width="1" height="22" fill="#EF5350" />
<rect x="542" y="435" width="3" height="9" fill="#EF5350" />
<rect x="548" y="435" width="1" height="16" fill="#26A69A" />
<rect x="547" y="436" width="3" height="8" fill="#26A69A" />
<rect x="552" y="423" width="1" height="18" fill="#26A69A" />
<rect x="551" y="423" width="3" height="14" fill="#26A69A" />
<rect x="557" y="397" width="1" height="30" fill="#26A69A" />
<rect x="556" y="401" width="3" height="23" fill="#26A69A" />
<rect x="561" y="379" width="1" height="32" fill="#EF5350" />
<rect x="560" y="401" width="3" height="4" fill="#EF5350" />
<rect x="566" y="390" width="1" height="17" fill="#26A69A" />
<rect x="565" y="395" width="3" height="10" fill="#26A69A" />
<rect x="570" y="391" width="1" height="19" fill="#26A69A" />
<rect x="569" y="391" width="3" height="5" fill="#26A69A" />
<rect x="575" y="372" width="1" height="21" fill="#26A69A" />
<rect x="574" y="374" width="3" height="18" fill="#26A69A" />
<rect x="579" y="369" width="1" height="16" fill="#26A69A" />
<rect x="578" y="373" width="3" height="2" fill="#26A69A" />
<rect x="584" y="365" width="1" height="12" fill="#26A69A" />
<rect x="583" y="368" width="3" height="6" fill="#26A69A" />
<rect x="589" y="329" width="1" height="44" fill="#26A69A" />
<rect x="588" y="340" width="3" height="29" fill="#26A69A" />
<rect x="593" y="315" width="1" height="27" fill="#26A69A" />
<rect x="592" y="332" width="3" height="9" fill="#26A69A" />
<rect x="598" y="325" width="1" height="64" fill="#EF5350" />
<rect x="597" y="332" width="3" height="10" fill="#EF5350" />
<rect x="602" y="318" width="1" height="46" fill="#26A69A" />
<rect x="601" y="322" width="3" height="20" fill="#26A69A" />
<rect x="607" y="295" width="1" height="34" fill="#26A69A" />
<rect x="606" y="297" width="3" height="26" fill="#26A69A" />
<rect x="611" y="268" width="1" height="35" fill="#26A69A" />
<rect x="610" y="275" width="3" height="23" fill="#26A69A" />
<rect x="616" y="255" width="1" height="45" fill="#26A69A" />
<rect x="615" y="266" width="3" height="10" fill="#26A69A" />
<rect x="620" y="260" width="1" height="22" fill="#EF5350" />
<rect x="619" y="266" width="3" height="4" fill="#EF5350" />
<rect x="625" y="260" width="1" height="59" fill="#EF5350" />
<rect x="624" y="269" width="3" height="17" fill="#EF5350" />
<rect x="629" y="285" width="1" height="77" fill="#EF5350" />
<rect x="628" y="285" width="3" height="25" fill="#EF5350" />
<rect x="634" y="298" width="1" height="40" fill="#EF5350" />
<rect x="633" y="309" width="3" height="14" fill="#EF5350" />
<rect x="639" y="288" width="1" height="51" fill="#26A69A" />
<rect x="638" y="292" width="3" height="31" fill="#26A69A" />
<rect x="643" y="270" width="1" height="29" fill="#26A69A" />
<rect x="642" y="277" width="3" height="16" fill="#26A69A" />
<rect x="648" y="273" width="1" height="47" fill="#EF5350" />
<rect x="647" y="277" width="3" height="21" fill="#EF5350" />
<rect x="652" y="287" width="1" height="24" fill="#EF5350" />
<rect x="651" y="297" width="3" height="8" fill="#EF5350" />
<rect x="657" y="297" width="1" height="28" fill="#EF5350" />
<rect x="656" y="304" width="3" height="3" fill="#EF5350" />
<rect x="661" y="292" width="1" height="24" fill="#26A69A" />
<rect x="660" y="299" width="3" height="8" fill="#26A69A" />
<rect x="666" y="288" width="1" height="18" fill="#EF5350" />
<rect x="665" y="299" width="3" height="7" fill="#EF5350" />
<rect x="670" y="300" width="1" height="29" fill="#EF5350" />
<rect x="669" y="305" width="3" height="5" fill="#EF5350" />
<rect x="675" y="308" width="1" height="55" fill="#EF5350" />
<rect x="674" y="309" width="3" height="45" fill="#EF5350" />
<rect x="680" y="323" width="1" height="54" fill="#26A69A" />
<rect x="679" y="332" width="3" height="22" fill="#26A69A" />
<rect x="684" y="327" width="1" height="21" fill="#EF5350" />
<rect x="683" y="332" width="3" height="10" fill="#EF5350" />
<rect x="689" y="331" width="1" height="22" fill="#26A69A" />
<rect x="688" y="339" width="3" height="3" fill="#26A69A" />
<rect x="693" y="314" width="1" height="29" fill="#EF5350" />
<rect x="692" y="339" width="3" height="1" fill="#EF5350" />
<rect x="698" y="332" width="1" height="22" fill="#26A69A" />
<rect x="697" y="337" width="3" height="3" fill="#26A69A" />
<rect x="702" y="336" width="1" height="36" fill="#EF5350" />
<rect x="701" y="337" width="3" height="22" fill="#EF5350" />
<rect x="707" y="324" width="1" height="40" fill="#26A69A" />
<rect x="706" y="328" width="3" height="31" fill="#26A69A" />
<rect x="711" y="282" width="1" height="61" fill="#26A69A" />
<rect x="710" y="320" width="3" height="9" fill="#26A69A" />
<rect x="716" y="313" width="1" height="21" fill="#26A69A" />
<rect x="715" y="320" width="3" height="1" fill="#26A69A" />
<rect x="721" y="319" width="1" height="22" fill="#EF5350" />
<rect x="720" y="320" width="3" height="12" fill="#EF5350" />
<rect x="725" y="316" width="1" height="23" fill="#26A69A" />
<rect x="724" y="327" width="3" height="5" fill="#26A69A" />
<rect x="730" y="304" width="1" height="25" fill="#26A69A" />
<rect x="729" y="309" width="3" height="19" fill="#26A69A" />
<rect x="734" y="290" width="1" height="21" fill="#26A69A" />
<rect x="733" y="290" width="3" height="20" fill="#26A69A" />
<rect x="739" y="281" width="1" height="23" fill="#EF5350" />
<rect x="738" y="290" width="3" height="7" fill="#EF5350" />
<rect x="743" y="284" width="1" height="16" fill="#26A69A" />
<rect x="742" y="284" width="3" height="13" fill="#26A69A" />
<rect x="748" y="263" width="1" height="23" fill="#26A69A" />
<rect x="747" y="277" width="3" height="8" fill="#26A69A" />
<rect x="752" y="273" width="1" height="20" fill="#EF5350" />
<rect x="751" y="277" width="3" height="4" fill="#EF5350" />
<rect x="757" y="221" width="1" height="67" fill="#26A69A" />
<rect x="756" y="223" width="3" height="58" fill="#26A69A" />
<rect x="761" y="212" width="1" height="22" fill="#26A69A" />
<rect x="760" y="223" width="3" height="1" fill="#26A69A" />
<rect x="766" y="217" width="1" height="27" fill="#EF5350" />
<rect x="765" y="223" width="3" height="12" fill="#EF5350" />
<rect x="771" y="208" width="1" height="33" fill="#26A69A" />
<rect x="770" y="213" width="3" height="22" fill="#26A69A" />
<rect x="775" y="206" width="1" height="20" fill="#EF5350" />
<rect x="774" y="213" width="3" height="5" fill="#EF5350" />
<rect x="780" y="212" width="1" height="14" fill="#EF5350" />
<rect x="779" y="217" width="3" height="2" fill="#EF5350" />
<rect x="784" y="202" width="1" height="18" fill="#26A69A" />
<rect x="783" y="209" width="3" height="10" fill="#26A69A" />
<rect x="789" y="206" width="1" height="23" fill="#EF5350" />
<rect x="788" y="209" width="3" height="5" fill="#EF5350" />
<rect x="793" y="196" width="1" height="25" fill="#26A69A" />
<rect x="792" y="205" width="3" height="9" fill="#26A69A" />
<rect x="798" y="184" width="1" height="24" fill="#26A69A" />
<rect x="797" y="187" width="3" height="19" fill="#26A69A" />
<rect x="802" y="184" width="1" height="11" fill="#EF5350" />
<rect x="801" y="187" width="3" height="4" fill="#EF5350" />
<rect x="807" y="162" width="1" height="34" fill="#26A69A" />
<rect x="806" y="165" width="3" height="26" fill="#26A69A" />
<rect x="812" y="155" width="1" height="22" fill="#EF5350" />
<rect x="811" y="165" width="3" height="1" fill="#EF5350" />
<rect x="816" y="151" width="1" height="17" fill="#26A69A" />
<rect x="815" y="156" width="3" height="10" fill="#26A69A" />
<rect x="821" y="155" width="1" height="68" fill="#EF5350" />
<rect x="820" y="156" width="3" height="20" fill="#EF5350" />
<rect x="825" y="174" width="1" height="61" fill="#EF5350" />
<rect x="824" y="175" width="3" height="33" fill="#EF5350" />
<rect x="830" y="191" width="1" height="30" fill="#26A69A" />
<rect x="829" y="202" width="3" height="6" fill="#26A69A" />
<rect x="834" y="187" width="1" height="36" fill="#EF5350" />
<rect x="833" y="202" width="3" height="18" fill="#EF5350" />
<rect x="839" y="210" width="1" height="31" fill="#EF5350" />
<rect x="838" y="219" width="3" height="6" fill="#EF5350" />
<rect x="843" y="210" width="1" height="24" fill="#EF5350" />
<rect x="842" y="224" width="3" height="2" fill="#EF5350" />
<rect x="848" y="222" width="1" height="27" fill="#EF5350" />
<rect x="847" y="225" width="3" height="8" fill="#EF5350" />
<rect x="853" y="201" width="1" height="34" fill="#26A69A" />
<rect x="852" y="202" width="3" height="31" fill="#26A69A" />
<rect x="857" y="198" width="1" height="22" fill="#EF5350" />
<rect x="856" y="202" width="3" height="9" fill="#EF5350" />
<rect x="862" y="183" width="1" height="30" fill="#26A69A" />
<rect x="861" y="197" width="3" height="14" fill="#26A69A" />
<rect x="866" y="189" width="1" height="28" fill="#EF5350" />
<rect x="865" y="197" width="3" height="14" fill="#EF5350" />
<rect x="871" y="203" width="1" height="23" fill="#26A69A" />
<rect x="870" y="208" width="3" height="3" fill="#26A69A" />
<rect x="875" y="205" width="1" height="15" fill="#26A69A" />
<rect x="874" y="207" width="3" height="2" fill="#26A69A" />
<rect x="880" y="188" width="1" height="20" fill="#26A69A" />
<rect x="879" y="194" width="3" height="14" fill="#26A69A" />
<rect x="884" y="185" width="1" height="20" fill="#26A69A" />
<rect x="883" y="185" width="3" height="10" fill="#26A69A" />
<rect x="889" y="170" width="1" height="20" fill="#26A69A" />
<rect x="888" y="170" width="3" height="16" fill="#26A69A" />
<rect x="893" y="156" width="1" height="26" fill="#26A69A" />
<rect x="892" y="165" width="3" height="6" fill="#26A69A" />
<rect x="898" y="152" width="1" height="23" fill="#26A69A" />
<rect x="897" y="154" width="3" height="12" fill="#26A69A" />
<rect x="903" y="152" width="1" height="19" fill="#EF5350" />
<rect x="902" y="154" width="3" height="4" fill="#EF5350" />
<rect x="907" y="133" width="1" height="32" fill="#26A69A" />
<rect x="906" y="136" width="3" height="22" fill="#26A69A" />
<rect x="912" y="133" width="1" height="16" fill="#EF5350" />
<rect x="911" y="136" width="3" height="12" fill="#EF5350" />
<rect x="916" y="139" width="1" height="34" fill="#EF5350" />
<rect x="915" y="147" width="3" height="20" fill="#EF5350" />
<rect x="921" y="158" width="1" height="23" fill="#26A69A" />
<rect x="920" y="159" width="3" height="8" fill="#26A69A" />
<rect x="925" y="147" width="1" height="29" fill="#26A69A" />
<rect x="924" y="148" width="3" height="12" fill="#26A69A" />
<rect x="930" y="142" width="1" height="17" fill="#EF5350" />
<rect x="929" y="148" width="3" height="8" fill="#EF5350" />
<rect x="934" y="145" width="1" height="18" fill="#26A69A" />
<rect x="933" y="152" width="3" height="4" fill="#26A69A" />
<rect x="939" y="143" width="1" height="12" fill="#26A69A" />
<rect x="938" y="152" width="3" height="1" fill="#26A69A" />
<rect x="944" y="149" width="1" height="19" fill="#EF5350" />
<rect x="943" y="152" width="3" height="5" fill="#EF5350" />
<rect x="948" y="150" width="1" height="28" fill="#EF5350" />
<rect x="947" y="156" width="3" height="20" fill="#EF5350" />
<rect x="953" y="165" width="1" height="17" fill="#26A69A" />
<rect x="952" y="173" width="3" height="3" fill="#26A69A" />
<rect x="957" y="157" width="1" height="35" fill="#EF5350" />
<rect x="956" y="173" width="3" height="14" fill="#EF5350" />
<rect x="962" y="180" width="1" height="18" fill="#EF5350" />
<rect x="961" y="186" width="3" height="7" fill="#EF5350" />
<rect x="966" y="169" width="1" height="24" fill="#26A69A" />
<rect x="965" y="169" width="3" height="24" fill="#26A69A" />
<rect x="971" y="161" width="1" height="16" fill="#26A69A" />
<rect x="970" y="165" width="3" height="5" fill="#26A69A" />
<rect x="975" y="161" width="1" height="11" fill="#EF5350" />
<rect x="974" y="165" width="3" height="1" fill="#EF5350" />
<rect x="980" y="151" width="1" height="20" fill="#26A69A" />
<rect x="979" y="155" width="3" height="11" fill="#26A69A" />
<rect x="985" y="145" width="1" height="14" fill="#26A69A" />
<rect x="984" y="148" width="3" height="8" fill="#26A69A" />
<rect x="989" y="143" width="1" height="17" fill="#26A69A" />
<rect x="988" y="148" width="3" height="1" fill="#26A69A" />
<rect x="994" y="145" width="1" height="9" fill="#26A69A" />
<rect x="993" y="147" width="3" height="2" fill="#26A69A" />
<rect x="998" y="142" width="1" height="9" fill="#26A69A" />
<rect x="997" y="147" width="3" height="1" fill="#26A69A" />
<rect x="1003" y="143" width="1" height="17" fill="#EF5350" />
<rect x="1002" y="147" width="3" height="12" fill="#EF5350" />
<rect x="1007" y="150" width="1" height="12" fill="#26A69A" />
<rect x="1006" y="152" width="3" height="7" fill="#26A69A" />
<rect x="1012" y="146" width="1" height="14" fill="#26A69A" />
<rect x="1011" y="147" width="3" height="6" fill="#26A69A" />
<rect x="1016" y="145" width="1" height="13" fill="#EF5350" />
<rect x="1015" y="147" width="3" height="7" fill="#EF5350" />
<rect x="1021" y="149" width="1" height="19" fill="#EF5350" />
<rect x="1020" y="153" width="3" height="12" fill="#EF5350" />
<rect x="1026" y="152" width="1" height="15" fill="#26A69A" />
<rect x="1025" y="152" width="3" height="13" fill="#26A69A" />
<rect x="1030" y="148" width="1" height="8" fill="#26A69A" />
<rect x="1029" y="152" width="3" height="1" fill="#26A69A" />
<rect x="1035" y="136" width="1" height="18" fill="#26A69A" />
<rect x="1034" y="143" width="3" height="10" fill="#26A69A" />
<rect x="1039" y="138" width="1" height="9" fill="#26A69A" />
<rect x="1038" y="142" width="3" height="2" fill="#26A69A" />
<rect x="1044" y="136" width="1" height="10" fill="#EF5350" />
<rect x="1043" y="142" width="3" height="2" fill="#EF5350" />
<rect x="1048" y="123" width="1" height="21" fill="#26A69A" />
<rect x="1047" y="124" width="3" height="20" fill="#26A69A" />
<rect x="1053" y="117" width="1" height="19" fill="#EF5350" />
<rect x="1052" y="124" width="3" height="4" fill="#EF5350" />
<rect x="1057" y="122" width="1" height="11" fill="#26A69A" />
<rect x="1056" y="126" width="3" height="2" fill="#26A69A" />
<rect x="1062" y="124" width="1" height="19" fill="#EF5350" />
<rect x="1061" y="126" width="3" height="10" fill="#EF5350" />
<rect x="1066" y="129" width="1" height="16" fill="#EF5350" />
<rect x="1065" y="135" width="3" height="8" fill="#EF5350" />
<rect x="1071" y="140" width="1" height="53" fill="#EF5350" />
<rect x="1070" y="142" width="3" height="21" fill="#EF5350" />
<rect x="1076" y="155" width="1" height="20" fill="#EF5350" />
<rect x="1075" y="162" width="3" height="5" fill="#EF5350" />
<rect x="1080" y="158" width="1" height="23" fill="#26A69A" />
<rect x="1079" y="161" width="3" height="6" fill="#26A69A" />
<rect x="1085" y="159" width="1" height="20" fill="#EF5350" />
<rect x="1084" y="161" width="3" height="17" fill="#EF5350" />
<rect x="1089" y="167" width="1" height="31" fill="#EF5350" />
<rect x="1088" y="177" width="3" height="13" fill="#EF5350" />
<rect x="1094" y="187" width="1" height="30" fill="#EF5350" />
<rect x="1093" y="189" width="3" height="5" fill="#EF5350" />
<rect x="1098" y="192" width="1" height="17" fill="#EF5350" />
<rect x="1097" y="193" width="3" height="7" fill="#EF5350" />
<rect x="1103" y="196" width="1" height="25" fill="#EF5350" />
<rect x="1102" y="199" width="3" height="8" fill="#EF5350" />
<rect x="1107" y="173" width="1" height="36" fill="#26A69A" />
<rect x="1106" y="175" width="3" height="32" fill="#26A69A" />
<rect x="1112" y="167" width="1" height="14" fill="#26A69A" />
<rect x="1111" y="169" width="3" height="7" fill="#26A69A" />
<rect x="1117" y="161" width="1" height="17" fill="#EF5350" />
<rect x="1116" y="169" width="3" height="3" fill="#EF5350" />
<rect x="1121" y="169" width="1" height="17" fill="#EF5350" />
<rect x="1120" y="171" width="3" height="8" fill="#EF5350" />
<rect x="1126" y="153" width="1" height="29" fill="#26A69A" />
<rect x="1125" y="154" width="3" height="25" fill="#26A69A" />
<rect x="1130" y="150" width="1" height="9" fill="#26A69A" />
<rect x="1129" y="154" width="3" height="1" fill="#26A69A" />
<rect x="1135" y="153" width="1" height="12" fill="#EF5350" />
<rect x="1134" y="154" width="3" height="8" fill="#EF5350" />
<rect x="1139" y="148" width="1" height="14" fill="#26A69A" />
<rect x="1138" y="157" width="3" height="5" fill="#26A69A" />
<rect x="1144" y="157" width="1" height="25" fill="#EF5350" />
<rect x="1143" y="157" width="3" height="24" fill="#EF5350" />
<rect x="1148" y="153" width="1" height="29" fill="#26A69A" />
<rect x="1147" y="156" width="3" height="25" fill="#26A69A" />
<rect x="1153" y="151" width="1" height="19" fill="#EF5350" />
<rect x="1152" y="156" width="3" height="7" fill="#EF5350" />
<rect x="1158" y="149" width="1" height="20" fill="#26A69A" />
<rect x="1157" y="156" width="3" height="7" fill="#26A69A" />
<rect x="1162" y="144" width="1" height="16" fill="#26A69A" />
<rect x="1161" y="148" width="3" height="9" fill="#26A69A" />
<rect x="1167" y="146" width="1" height="18" fill="#EF5350" />
<rect x="1166" y="148" width="3" height="4" fill="#EF5350" />
<rect x="1171" y="144" width="1" height="33" fill="#EF5350" />
<rect x="1170" y="151" width="3" height="15" fill="#EF5350" />
<rect x="1176" y="161" width="1" height="13" fill="#EF5350" />
<rect x="1175" y="165" width="3" height="4" fill="#EF5350" />
</g>
<line x1="538" y1="373.5" x2="1351" y2="373.5" stroke="#F23B30" stroke-width="3" shape-rendering="crispEdges"/>
<line x1="911.8" y1="131.5" x2="993.8" y2="171.8" stroke="#7B1FA2" stroke-opacity="0.75" stroke-width="1.3"/>
<line x1="907.4" y1="171.2" x2="993.8" y2="212.9" stroke="#7B1FA2" stroke-opacity="0.75" stroke-width="1.3"/>
<line x1="766" y1="200.5" x2="1351" y2="200.5" stroke="#000" stroke-width="3" stroke-dasharray="15 18" shape-rendering="crispEdges"/>
<line x1="743" y1="240.5" x2="1351" y2="240.5" stroke="#000" stroke-width="3" stroke-dasharray="15 18" shape-rendering="crispEdges"/>
<line x1="7" y1="168.5" x2="1351" y2="168.5" stroke="#EF5350" stroke-width="1" stroke-dasharray="1 2" shape-rendering="crispEdges"/>
<line x1="811.8" y1="151.8" x2="1130" y2="83.5" stroke="#000" stroke-width="3.4"/>
<line x1="752.9" y1="291.5" x2="1130" y2="120.3" stroke="#000" stroke-width="3.4"/>
</g>
<g clip-path="url(#cl)">
<line x1="7" y1="841.5" x2="1351" y2="841.5" stroke="#787B86" stroke-width="1" stroke-dasharray="5 6"/>
<polyline fill="none" stroke="#FF9F4A" stroke-width="1" points="6.9,837.4 21,838.4 33.6,837.4 52.5,837.1 60.9,837.4 67.2,838.8 84,839.5 96.6,838.8 113.4,839.9 126,839.5 134.5,840.3 147.1,839.9 164.9,840.9 182.8,839.9 195.4,840.9 201.7,839.5 208,840.9 220.6,838.8 231.1,839.5 252.1,839.5 264.7,838.4 277.3,839.5 294.1,838.4 300,838.4 314.7,837.8 325.2,838.8 337.8,837.4 352.5,839.5 363,838.4 384,838.4 392.4,838.8 411.3,836.7 419.7,837.4 425,836.3 430.3,838.8 437.6,840.9 447.1,835.7 457.6,836.1 470.2,836.7 478.6,837.8 484.9,839.5 488.4,837.1 494.3,838.4 502.3,839.9 510.1,837.1 516.4,836.7 525.8,835.3 534.2,836.1 538.4,834 543.7,835 548.9,835.7 556.3,838.8 561.6,840.9 565.8,840.9 570.4,837.8 575.2,839.5 579.4,838.4 589.9,839.9 596.2,842 600,840.9 606.3,838.4 612.6,837.8 621,839.5 630.5,837.1 635.7,839.5 642,837.8 654.6,839.5 663,838.8 671.4,839.9 684,840.3 692.4,841.6 700.8,840.5 715.5,840.9 730.3,841.3 747.1,842.4 763.9,841.6 768.1,840.9 778.6,841.6 789.1,840.9 801.7,841.3 820.6,840.9 826.9,841.3 831.1,843 843.7,843 852.1,842 866.8,843 883.6,844.1 894.1,842.6 900,843 912.6,844.7 916.8,844.1 922.1,842.4 935.7,843.4 948.3,842.4 958.8,843.7 975.6,844.1 988.2,843.7 1002.9,844.1 1015.5,843 1026,844.1 1042.9,844.7 1053.4,843.7 1057.6,844.7 1067,844.5 1073.3,842.4 1080.7,843 1094.3,844.7 1103.8,843.7 1108,844.7 1116.4,843.7 1129,845.1 1139.5,844.7 1144.7,844.1 1150,845.1 1162.6,845.1 1177.3,845.5"/>
<polyline fill="none" stroke="#5A5AF5" stroke-width="1" points="6.9,823.1 12.6,826.6 21,828.7 29.4,832.9 33.6,831.5 37.8,832.5 43,829.4 47.3,828.7 51.5,823.1 56.7,824.7 60.9,825.2 70.4,830.4 74.6,829.8 84,832.9 88.2,831.1 92.4,832.1 96.6,831.1 105,833.6 113.4,833.6 120.8,832.5 129.2,830.4 132.4,830.8 138.7,833.6 147.1,834.6 155.5,835 164.9,837.4 170.2,836.1 182.8,836.1 195.4,834.2 202.7,829.4 210.1,828.7 220.6,828.3 226.9,831.5 233.2,832.1 239.5,830.4 252.1,830.4 256.3,831.5 265.8,824.7 271,825.8 279.4,825.2 284.7,827.9 288.9,826.6 294.1,828.3 300,827.9 310.5,829.8 315.8,828.3 325.2,831.9 334.7,831.5 338.9,830.4 352.5,831.5 356.7,830 363,831.1 373.5,829.8 379.8,830 384,829 388.2,830.4 393.5,829.8 397.7,826.6 406.1,830.4 416.6,819.3 421.8,819.9 425.4,819.3 430.3,824.1 438.2,828.7 447.1,819.3 452.3,818.4 457.6,813.6 461.8,813.2 468.1,815.3 475.4,810.5 479.6,810.5 484.9,814 488.4,811.1 494.3,814 498.5,815.1 502.3,816.8 516.4,799.3 520.2,803.5 525.8,798.5 534.2,797.9 538.4,788.4 543.7,784.8 548.9,791.6 552.7,806.7 556.3,808.4 561.6,810 566.8,814.2 570.4,812.1 575.2,816.8 579.4,814.7 584.7,818.9 589.9,818.2 593.1,821 600,833.6 602.5,836.7 607.4,835.3 611.6,836.7 615.8,835.7 621,838.8 625.2,839.9 630.5,836.1 634.7,837.8 639.9,835.7 650.4,836.7 657.8,838.4 662,837.1 666.2,839.9 670.4,836.3 676.7,837.8 684,837.4 692.4,840.9 699.8,837.4 707.1,838.8 711.3,837.8 719.7,839.2 726,838.4 747.1,837.8 757.6,836.1 772.3,839.2 780.7,838.8 789.1,837.1 799.6,839.9 812.2,838.8 820.6,837.1 825.8,837.8 831.1,840.9 839.5,840.3 843.7,841.3 847.9,839.5 856.3,840.9 866.8,841.6 875.2,842 884.7,844.1 894.1,840.9 900,842 912.6,843 916.8,843.7 922.1,840.9 931.5,841.3 937.8,842.4 952.5,842 973.5,842.6 988.2,842 1000.8,842.4 1017.6,841.6 1036.6,842 1053.4,840.9 1057.6,843 1063.9,841.6 1068.1,842 1073.3,839.9 1080.7,839.9 1087,841.3 1094.3,839.9 1099.6,840.9 1103.8,839.9 1108,842 1114.3,840.5 1122.7,840.9 1131.1,841.6 1139.5,843 1144.7,840.9 1150,842 1160.5,840.9 1166.8,843 1172.1,843.7 1177.3,841.6"/>
</g>
<g shape-rendering="crispEdges">
<rect x="6" y="43" width="1416" height="1" fill="#E0E3EB" />
<rect x="6" y="880" width="1416" height="1" fill="#E0E3EB" />
<rect x="6" y="43" width="1" height="838" fill="#E0E3EB" />
<rect x="1421" y="43" width="1" height="838" fill="#E0E3EB" />
<rect x="1351" y="43" width="1" height="837" fill="#E0E3EB" />
<rect x="6" y="776" width="1415" height="1" fill="#E0E3EB" />
<rect x="6" y="852" width="1415" height="1" fill="#E0E3EB" />
<rect x="1352" y="51" width="4" height="1" fill="#E0E3EB" />
<rect x="1352" y="84" width="4" height="1" fill="#E0E3EB" />
<rect x="1352" y="122" width="4" height="1" fill="#E0E3EB" />
<rect x="1352" y="161" width="4" height="1" fill="#E0E3EB" />
<rect x="1352" y="197" width="4" height="1" fill="#E0E3EB" />
<rect x="1352" y="237" width="4" height="1" fill="#E0E3EB" />
<rect x="1352" y="283" width="4" height="1" fill="#E0E3EB" />
<rect x="1352" y="318" width="4" height="1" fill="#E0E3EB" />
<rect x="1352" y="357" width="4" height="1" fill="#E0E3EB" />
<rect x="1352" y="390" width="4" height="1" fill="#E0E3EB" />
<rect x="1352" y="426" width="4" height="1" fill="#E0E3EB" />
<rect x="1352" y="468" width="4" height="1" fill="#E0E3EB" />
<rect x="1352" y="499" width="4" height="1" fill="#E0E3EB" />
<rect x="1352" y="533" width="4" height="1" fill="#E0E3EB" />
<rect x="1352" y="563" width="4" height="1" fill="#E0E3EB" />
<rect x="1352" y="597" width="4" height="1" fill="#E0E3EB" />
<rect x="1352" y="635" width="4" height="1" fill="#E0E3EB" />
<rect x="1352" y="666" width="4" height="1" fill="#E0E3EB" />
<rect x="1352" y="701" width="4" height="1" fill="#E0E3EB" />
<rect x="1352" y="733" width="4" height="1" fill="#E0E3EB" />
<rect x="1352" y="800" width="4" height="1" fill="#E0E3EB" />
<rect x="1352" y="841" width="4" height="1" fill="#E0E3EB" />
<rect x="29" y="853" width="1" height="4" fill="#E0E3EB" />
<rect x="165" y="853" width="1" height="4" fill="#E0E3EB" />
<rect x="306" y="853" width="1" height="4" fill="#E0E3EB" />
<rect x="443" y="853" width="1" height="4" fill="#E0E3EB" />
<rect x="584" y="853" width="1" height="4" fill="#E0E3EB" />
<rect x="725" y="853" width="1" height="4" fill="#E0E3EB" />
<rect x="853" y="853" width="1" height="4" fill="#E0E3EB" />
<rect x="994" y="853" width="1" height="4" fill="#E0E3EB" />
<rect x="1130" y="853" width="1" height="4" fill="#E0E3EB" />
<rect x="1271" y="853" width="1" height="4" fill="#E0E3EB" />
</g>
<text x="1361" y="55.8" font-size="12" fill="#131722" font-weight="normal" text-anchor="start" textLength="48.3" lengthAdjust="spacingAndGlyphs" >80000.00</text>
<text x="1361" y="88.8" font-size="12" fill="#131722" font-weight="normal" text-anchor="start" textLength="48.3" lengthAdjust="spacingAndGlyphs" >72000.00</text>
<text x="1361" y="126.8" font-size="12" fill="#131722" font-weight="normal" text-anchor="start" textLength="48.3" lengthAdjust="spacingAndGlyphs" >64000.00</text>
<text x="1361" y="165.8" font-size="12" fill="#131722" font-weight="normal" text-anchor="start" textLength="48.3" lengthAdjust="spacingAndGlyphs" >56500.00</text>
<text x="1361" y="201.8" font-size="12" fill="#131722" font-weight="normal" text-anchor="start" textLength="48.3" lengthAdjust="spacingAndGlyphs" >50500.00</text>
<text x="1361" y="241.8" font-size="12" fill="#131722" font-weight="normal" text-anchor="start" textLength="48.3" lengthAdjust="spacingAndGlyphs" >44500.00</text>
<text x="1361" y="287.8" font-size="12" fill="#131722" font-weight="normal" text-anchor="start" textLength="48.3" lengthAdjust="spacingAndGlyphs" >38500.00</text>
<text x="1361" y="322.8" font-size="12" fill="#131722" font-weight="normal" text-anchor="start" textLength="48.3" lengthAdjust="spacingAndGlyphs" >34500.00</text>
<text x="1361" y="361.8" font-size="12" fill="#131722" font-weight="normal" text-anchor="start" textLength="48.3" lengthAdjust="spacingAndGlyphs" >30500.00</text>
<text x="1361" y="394.8" font-size="12" fill="#131722" font-weight="normal" text-anchor="start" textLength="48.3" lengthAdjust="spacingAndGlyphs" >27500.00</text>
<text x="1361" y="430.8" font-size="12" fill="#131722" font-weight="normal" text-anchor="start" textLength="48.3" lengthAdjust="spacingAndGlyphs" >24500.00</text>
<text x="1361" y="472.8" font-size="12" fill="#131722" font-weight="normal" text-anchor="start" textLength="48.3" lengthAdjust="spacingAndGlyphs" >21500.00</text>
<text x="1361" y="503.8" font-size="12" fill="#131722" font-weight="normal" text-anchor="start" textLength="48.3" lengthAdjust="spacingAndGlyphs" >19500.00</text>
<text x="1361" y="537.8" font-size="12" fill="#131722" font-weight="normal" text-anchor="start" textLength="48.3" lengthAdjust="spacingAndGlyphs" >17500.00</text>
<text x="1361" y="567.8" font-size="12" fill="#131722" font-weight="normal" text-anchor="start" textLength="48.3" lengthAdjust="spacingAndGlyphs" >15900.00</text>
<text x="1361" y="601.8" font-size="12" fill="#131722" font-weight="normal" text-anchor="start" textLength="48.3" lengthAdjust="spacingAndGlyphs" >14300.00</text>
<text x="1361" y="639.8" font-size="12" fill="#131722" font-weight="normal" text-anchor="start" textLength="48.3" lengthAdjust="spacingAndGlyphs" >12700.00</text>
<text x="1361" y="670.8" font-size="12" fill="#131722" font-weight="normal" text-anchor="start" textLength="48.3" lengthAdjust="spacingAndGlyphs" >11500.00</text>
<text x="1361" y="705.8" font-size="12" fill="#131722" font-weight="normal" text-anchor="start" textLength="48.3" lengthAdjust="spacingAndGlyphs" >10300.00</text>
<text x="1361" y="737.8" font-size="12" fill="#131722" font-weight="normal" text-anchor="start" textLength="42" lengthAdjust="spacingAndGlyphs" >9300.00</text>
<text x="1361" y="804" font-size="12" fill="#131722" font-weight="normal" text-anchor="start" textLength="35.5" lengthAdjust="spacingAndGlyphs" >200.00</text>
<text x="1361" y="845" font-size="12" fill="#131722" font-weight="normal" text-anchor="start" textLength="22.5" lengthAdjust="spacingAndGlyphs" >0.00</text>
<text x="20.4" y="869.6" font-size="12" fill="#131722" font-weight="normal" text-anchor="start" textLength="18.2" lengthAdjust="spacingAndGlyphs" >Sep</text>
<text x="156.4" y="869.6" font-size="12" fill="#131722" font-weight="normal" text-anchor="start" textLength="18.2" lengthAdjust="spacingAndGlyphs" >Oct</text>
<text x="297.05" y="869.6" font-size="12" fill="#131722" font-weight="normal" text-anchor="start" textLength="18.9" lengthAdjust="spacingAndGlyphs" >Nov</text>
<text x="433.65" y="869.6" font-size="12" fill="#131722" font-weight="normal" text-anchor="start" textLength="19.7" lengthAdjust="spacingAndGlyphs" >Dec</text>
<text x="571.5" y="869.6" font-size="12" fill="#131722" font-weight="bold" text-anchor="start" textLength="26" lengthAdjust="spacingAndGlyphs" >2021</text>
<text x="715.9" y="869.6" font-size="12" fill="#131722" font-weight="normal" text-anchor="start" textLength="19.2" lengthAdjust="spacingAndGlyphs" >Feb</text>
<text x="843.8" y="869.6" font-size="12" fill="#131722" font-weight="normal" text-anchor="start" textLength="19.4" lengthAdjust="spacingAndGlyphs" >Mar</text>
<text x="985.7" y="869.6" font-size="12" fill="#131722" font-weight="normal" text-anchor="start" textLength="17.6" lengthAdjust="spacingAndGlyphs" >Apr</text>
<text x="1120.15" y="869.6" font-size="12" fill="#131722" font-weight="normal" text-anchor="start" textLength="20.7" lengthAdjust="spacingAndGlyphs" >May</text>
<text x="1262.4" y="869.6" font-size="12" fill="#131722" font-weight="normal" text-anchor="start" textLength="18.2" lengthAdjust="spacingAndGlyphs" >Jun</text>
<rect x="1351" y="160" width="65" height="31" fill="#EF5350" rx="2"/>
<rect x="1351" y="160" width="3" height="31" fill="#EF5350" />
<rect x="1352" y="168" width="4" height="1" fill="#fff" shape-rendering="crispEdges"/>
<text x="1361" y="173.4" font-size="12.5" fill="#fff" font-weight="bold" text-anchor="start" textLength="48.5" lengthAdjust="spacingAndGlyphs" >55373.75</text>
<text x="1361" y="187.2" font-size="12.5" fill="rgba(255,255,255,0.75)" font-weight="bold" text-anchor="start" textLength="46" lengthAdjust="spacingAndGlyphs" >19:35:18</text>
<rect x="1351" y="192" width="65" height="16" fill="#000" rx="2"/>
<rect x="1351" y="192" width="3" height="16" fill="#000" />
<rect x="1352" y="200" width="4" height="1" fill="#fff" shape-rendering="crispEdges"/>
<text x="1361" y="204.9" font-size="12.5" fill="#fff" font-weight="bold" text-anchor="start" textLength="48.5" lengthAdjust="spacingAndGlyphs" >50000.00</text>
<rect x="1351" y="232" width="65" height="16" fill="#000" rx="2"/>
<rect x="1351" y="232" width="3" height="16" fill="#000" />
<rect x="1352" y="240" width="4" height="1" fill="#fff" shape-rendering="crispEdges"/>
<text x="1361" y="244.9" font-size="12.5" fill="#fff" font-weight="bold" text-anchor="start" textLength="48.5" lengthAdjust="spacingAndGlyphs" >44000.00</text>
<rect x="1351" y="365" width="65" height="16" fill="#F23B30" rx="2"/>
<rect x="1351" y="365" width="3" height="16" fill="#F23B30" />
<rect x="1352" y="373" width="4" height="1" fill="#fff" shape-rendering="crispEdges"/>
<text x="1361" y="377.9" font-size="12.5" fill="#fff" font-weight="bold" text-anchor="start" textLength="48.5" lengthAdjust="spacingAndGlyphs" >29000.00</text>
<rect x="1351" y="491" width="65" height="16" fill="#F23B30" rx="2"/>
<rect x="1351" y="491" width="3" height="16" fill="#F23B30" />
<rect x="1352" y="499" width="4" height="1" fill="#fff" shape-rendering="crispEdges"/>
<text x="1361" y="503.9" font-size="12.5" fill="#fff" font-weight="bold" text-anchor="start" textLength="48.5" lengthAdjust="spacingAndGlyphs" >19500.00</text>
<rect x="1351" y="639" width="65" height="16" fill="#FF0000" rx="2"/>
<rect x="1351" y="639" width="3" height="16" fill="#FF0000" />
<rect x="1352" y="647" width="4" height="1" fill="#fff" shape-rendering="crispEdges"/>
<text x="1361" y="651.9" font-size="12.5" fill="#fff" font-weight="bold" text-anchor="start" textLength="48.5" lengthAdjust="spacingAndGlyphs" >12200.00</text>
<rect x="1351" y="687" width="65" height="16" fill="#FF0000" rx="2"/>
<rect x="1351" y="687" width="3" height="16" fill="#FF0000" />
<rect x="1352" y="695" width="4" height="1" fill="#fff" shape-rendering="crispEdges"/>
<text x="1361" y="699.9" font-size="12.5" fill="#fff" font-weight="bold" text-anchor="start" textLength="48.5" lengthAdjust="spacingAndGlyphs" >10500.00</text>
<rect x="1351" y="709" width="59" height="16" fill="#FF0000" rx="2"/>
<rect x="1351" y="709" width="3" height="16" fill="#FF0000" />
<rect x="1352" y="717" width="4" height="1" fill="#fff" shape-rendering="crispEdges"/>
<text x="1361" y="721.9" font-size="12.5" fill="#fff" font-weight="bold" text-anchor="start" textLength="42" lengthAdjust="spacingAndGlyphs" >9800.00</text>
<rect x="1351" y="754" width="59" height="16" fill="#F23B30" rx="2"/>
<rect x="1351" y="754" width="3" height="16" fill="#F23B30" />
<rect x="1352" y="762" width="4" height="1" fill="#fff" shape-rendering="crispEdges"/>
<text x="1361" y="766.9" font-size="12.5" fill="#fff" font-weight="bold" text-anchor="start" textLength="42" lengthAdjust="spacingAndGlyphs" >8500.00</text>
<rect x="1372.5" y="50.5" width="26" height="18" rx="3" fill="#fff" stroke="#E0E3EB"/>
<text x="1385.5" y="63.6" font-size="11.5" fill="#131722" font-weight="normal" text-anchor="middle" textLength="20" lengthAdjust="spacingAndGlyphs" >USD</text>
<text x="15.7" y="64.7" font-size="12.5" fill="#131722" font-weight="bold" text-anchor="start" textLength="38.8" lengthAdjust="spacingAndGlyphs" >Bitcoin</text>
<text x="59.8" y="64.7" font-size="12.5" fill="#131722" font-weight="bold" text-anchor="start" textLength="4.9" lengthAdjust="spacingAndGlyphs" >/</text>
<text x="68.2" y="64.7" font-size="12.5" fill="#131722" font-weight="bold" text-anchor="start" textLength="23" lengthAdjust="spacingAndGlyphs" >U.S.</text>
<text x="95.5" y="64.7" font-size="12.5" fill="#131722" font-weight="bold" text-anchor="start" textLength="37.8" lengthAdjust="spacingAndGlyphs" >Dollar,</text>
<text x="137.8" y="64.7" font-size="12.5" fill="#131722" font-weight="bold" text-anchor="start" textLength="18.1" lengthAdjust="spacingAndGlyphs" >1D,</text>
<text x="160.8" y="64.7" font-size="12.5" fill="#131722" font-weight="bold" text-anchor="start" textLength="57.2" lengthAdjust="spacingAndGlyphs" >COINBASE</text>
<text x="15.7" y="81.8" font-size="12.5" fill="#131722" font-weight="normal" text-anchor="start" textLength="29.8" lengthAdjust="spacingAndGlyphs" >VPVR</text>
<text x="49.4" y="81.8" font-size="12.5" fill="#131722" font-weight="normal" text-anchor="start" textLength="48.6" lengthAdjust="spacingAndGlyphs" >(Number</text>
<text x="102.4" y="81.8" font-size="12.5" fill="#131722" font-weight="normal" text-anchor="start" textLength="11.3" lengthAdjust="spacingAndGlyphs" >Of</text>
<text x="118.2" y="81.8" font-size="12.5" fill="#131722" font-weight="normal" text-anchor="start" textLength="32.8" lengthAdjust="spacingAndGlyphs" >Rows,</text>
<text x="154.9" y="81.8" font-size="12.5" fill="#131722" font-weight="normal" text-anchor="start" textLength="21" lengthAdjust="spacingAndGlyphs" >100,</text>
<text x="183.3" y="81.8" font-size="12.5" fill="#131722" font-weight="normal" text-anchor="start" textLength="56.3" lengthAdjust="spacingAndGlyphs" >Up/Down,</text>
<text x="243.7" y="81.8" font-size="12.5" fill="#131722" font-weight="normal" text-anchor="start" textLength="18.1" lengthAdjust="spacingAndGlyphs" >70)</text>
<text x="15.7" y="98.4" font-size="12.5" fill="#131722" font-weight="normal" text-anchor="start" textLength="16.7" lengthAdjust="spacingAndGlyphs" >Vol</text>
<text x="36.7" y="98.4" font-size="12.5" fill="#131722" font-weight="normal" text-anchor="start" textLength="21.1" lengthAdjust="spacingAndGlyphs" >(50)</text>
<text x="15.7" y="115.3" font-size="12.5" fill="#131722" font-weight="normal" text-anchor="start" textLength="50" lengthAdjust="spacingAndGlyphs" >Ichimoku</text>
<text x="70" y="115.3" font-size="12.5" fill="#131722" font-weight="normal" text-anchor="start" textLength="21.2" lengthAdjust="spacingAndGlyphs" >(20,</text>
<text x="95.1" y="115.3" font-size="12.5" fill="#131722" font-weight="normal" text-anchor="start" textLength="16.1" lengthAdjust="spacingAndGlyphs" >60,</text>
<text x="115.7" y="115.3" font-size="12.5" fill="#131722" font-weight="normal" text-anchor="start" textLength="21.6" lengthAdjust="spacingAndGlyphs" >120,</text>
<text x="143.1" y="115.3" font-size="12.5" fill="#131722" font-weight="normal" text-anchor="start" textLength="17.7" lengthAdjust="spacingAndGlyphs" >30)</text>
<text x="15.6" y="797.9" font-size="12.5" fill="#131722" font-weight="normal" text-anchor="start" textLength="53.7" lengthAdjust="spacingAndGlyphs" >Grayscale</text>
<text x="73.6" y="797.9" font-size="12.5" fill="#131722" font-weight="normal" text-anchor="start" textLength="37.8" lengthAdjust="spacingAndGlyphs" >Premia</text>
<text x="116.5" y="797.9" font-size="12.5" fill="#131722" font-weight="normal" text-anchor="start" textLength="27.7" lengthAdjust="spacingAndGlyphs" >(240,</text>
<text x="148.7" y="797.9" font-size="12.5" fill="#131722" font-weight="normal" text-anchor="start" textLength="60" lengthAdjust="spacingAndGlyphs" >OTC:GBTC,</text>
<text x="213.8" y="797.9" font-size="12.5" fill="#131722" font-weight="normal" text-anchor="start" textLength="106.8" lengthAdjust="spacingAndGlyphs" >COINBASE:BTCUSD,</text>
<text x="325.2" y="797.9" font-size="12.5" fill="#131722" font-weight="normal" text-anchor="start" textLength="60.9" lengthAdjust="spacingAndGlyphs" >OTC:ETHE,</text>
<text x="389.9" y="797.9" font-size="12.5" fill="#131722" font-weight="normal" text-anchor="start" textLength="114.3" lengthAdjust="spacingAndGlyphs" >COINBASE:ETHUSD)</text>
<text x="6.5" y="16.6" font-size="12.5" fill="#131722" font-weight="bold" text-anchor="start" textLength="56.1" lengthAdjust="spacingAndGlyphs" >heussepa</text>
<text x="66.2" y="16.6" font-size="12.5" fill="#131722" font-weight="normal" text-anchor="start" textLength="51.4" lengthAdjust="spacingAndGlyphs" >published</text>
<text x="122" y="16.6" font-size="12.5" fill="#131722" font-weight="normal" text-anchor="start" textLength="13.3" lengthAdjust="spacingAndGlyphs" >on</text>
<text x="138.8" y="16.6" font-size="12.5" fill="#131722" font-weight="normal" text-anchor="start" textLength="100" lengthAdjust="spacingAndGlyphs" >TradingView.com,</text>
<text x="245.6" y="16.6" font-size="12.5" fill="#131722" font-weight="normal" text-anchor="start" textLength="24.1" lengthAdjust="spacingAndGlyphs" >May</text>
<text x="275" y="16.6" font-size="12.5" fill="#131722" font-weight="normal" text-anchor="start" textLength="14.7" lengthAdjust="spacingAndGlyphs" >11,</text>
<text x="294" y="16.6" font-size="12.5" fill="#131722" font-weight="normal" text-anchor="start" textLength="26.6" lengthAdjust="spacingAndGlyphs" >2021</text>
<text x="325" y="16.6" font-size="12.5" fill="#131722" font-weight="normal" text-anchor="start" textLength="49" lengthAdjust="spacingAndGlyphs" >06:25:01</text>
<text x="378.5" y="16.6" font-size="12.5" fill="#131722" font-weight="normal" text-anchor="start" textLength="25.9" lengthAdjust="spacingAndGlyphs" >CEST</text>
<text x="6.5" y="34" font-size="12.5" fill="#131722" font-weight="bold" text-anchor="start" textLength="111.1" lengthAdjust="spacingAndGlyphs" >COINBASE:BTCUSD,</text>
<text x="123.5" y="34" font-size="12.5" fill="#131722" font-weight="bold" text-anchor="start" textLength="14.1" lengthAdjust="spacingAndGlyphs" >1D</text>
<text x="144" y="34" font-size="12.5" fill="#131722" font-weight="normal" text-anchor="start" textLength="52.2" lengthAdjust="spacingAndGlyphs" >55372.53</text>
<text x="214.7" y="34" font-size="12.5" fill="#131722" font-weight="normal" text-anchor="start" textLength="45" lengthAdjust="spacingAndGlyphs" >−493.88</text>
<text x="263.8" y="34" font-size="12.5" fill="#131722" font-weight="normal" text-anchor="start" textLength="48.5" lengthAdjust="spacingAndGlyphs" >(−0.88%)</text>
<path d="M200 25.5 L210.3 25.5 L205.15 35 Z" fill="#EF5350"/>
<text x="317.5" y="34" font-size="12.5" fill="#131722" font-weight="bold" text-anchor="start" textLength="11.5" lengthAdjust="spacingAndGlyphs" >O:</text>
<text x="331" y="34" font-size="12.5" fill="#EF5350" font-weight="normal" text-anchor="start" textLength="53" lengthAdjust="spacingAndGlyphs" >55866.38</text>
<text x="388.5" y="34" font-size="12.5" fill="#131722" font-weight="bold" text-anchor="start" textLength="12.5" lengthAdjust="spacingAndGlyphs" >H:</text>
<text x="402.5" y="34" font-size="12.5" fill="#EF5350" font-weight="normal" text-anchor="start" textLength="53" lengthAdjust="spacingAndGlyphs" >56451.70</text>
<text x="459.5" y="34" font-size="12.5" fill="#131722" font-weight="bold" text-anchor="start" textLength="10" lengthAdjust="spacingAndGlyphs" >L:</text>
<text x="470.5" y="34" font-size="12.5" fill="#EF5350" font-weight="normal" text-anchor="start" textLength="53" lengthAdjust="spacingAndGlyphs" >54511.48</text>
<text x="527.5" y="34" font-size="12.5" fill="#131722" font-weight="bold" text-anchor="start" textLength="11" lengthAdjust="spacingAndGlyphs" >C:</text>
<text x="540" y="34" font-size="12.5" fill="#EF5350" font-weight="normal" text-anchor="start" textLength="51.5" lengthAdjust="spacingAndGlyphs" >55373.75</text>
<g transform="translate(5.8,890.5)"><path d="M7.2 15.2 C3 15.2 0 13 0 9.8 C0 7 2 5 4.6 4.6 C5.6 1.8 8.2 0 11.2 0 C14 0 16.4 1.6 17.6 4 C18.2 3.8 18.8 3.8 19.4 3.8 C23 3.8 26.2 6.4 26.2 9.8 C26.2 13 23.4 15.2 20 15.2 Z" fill="#2196F3"/><path d="M1.2 14 L10 5.6 L16 11.6 L23.5 4.6" fill="none" stroke="#fff" stroke-width="1.5"/><circle cx="10" cy="5.8" r="1.9" fill="#fff"/><circle cx="16" cy="11.4" r="1.9" fill="#fff"/></g>
<text x="34.1" y="902.7" font-size="13" fill="#131722" font-weight="normal" text-anchor="start" textLength="70.6" lengthAdjust="spacingAndGlyphs" >TradingView</text></svg></body></html>
